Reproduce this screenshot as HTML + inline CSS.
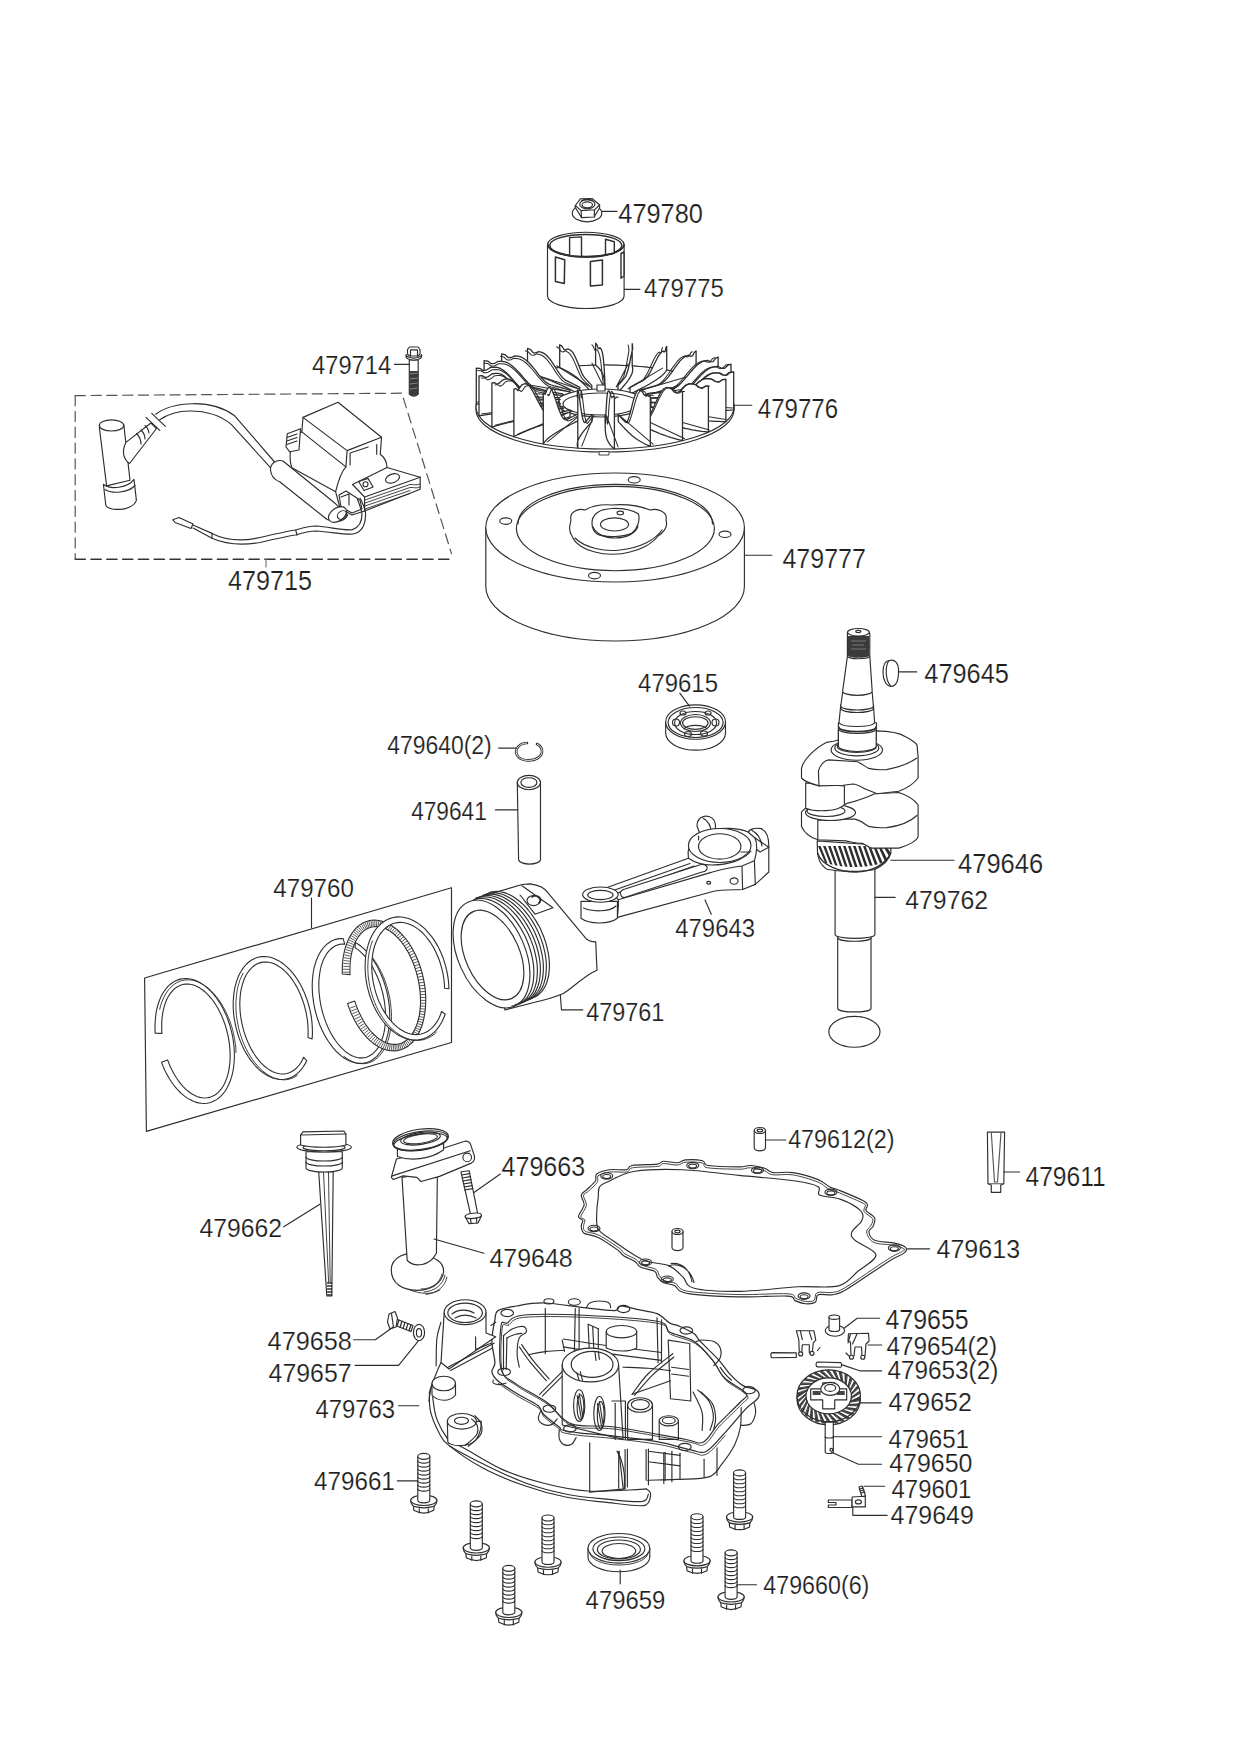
<!DOCTYPE html>
<html><head><meta charset="utf-8"><style>
html,body{margin:0;padding:0;background:#fff;width:1241px;height:1755px;overflow:hidden}
svg{display:block}
text{font-family:"Liberation Sans",sans-serif;font-size:100px;fill:#1e1e1e;stroke:#fff;stroke-width:0.7}
.l{fill:none;stroke:#2e2e2e;stroke-width:1.15;stroke-linejoin:round;stroke-linecap:round}
.w{fill:#fff;stroke:#2e2e2e;stroke-width:1.15;stroke-linejoin:round;stroke-linecap:round}
.t{fill:none;stroke:#3a3a3a;stroke-width:1.1}
</style></head><body>
<svg width="1241" height="1755" viewBox="0 0 1241 1755">
<!-- 01_nut_cup.svg -->
<g id="nut">
<path class="w" d="M572.3,213.2 A14.75,8.7 0 0 0 601.8,213.2 A14.75,8.7 0 0 0 572.3,213.2 Z"/>
<path class="w" d="M575.4,205.5 L580.5,198.7 L592.1,198.5 L599.6,205 L599.6,208 L595,215.5 L594.3,217 L581.6,217.6 L575,207 Z"/>
<path class="l" d="M575.4,205.5 L581,210.6 L594.5,209.8 L599.6,205 M581,210.6 L581.6,217.6 M594.5,209.8 L594.3,217"/>
<ellipse class="l" cx="587.3" cy="204.3" rx="7.6" ry="4.6"/>
<ellipse class="l" cx="587.3" cy="204.8" rx="5.2" ry="3"/>
<path class="l" d="M582,200.5 Q587,198.5 592,200.5" style="stroke-width:1.6"/>
<path class="l" d="M601.8,211.3 L617,211.3"/>
</g>
<g id="cup">
<path class="w" d="M547.5,244.6 L547.5,296 A38.3,12.5 0 0 0 624.1,296 L624.1,244.6 Z"/>
<ellipse class="w" cx="585.8" cy="244.6" rx="38.3" ry="12.4"/>
<ellipse class="l" cx="585.8" cy="245.4" rx="36" ry="11" style="stroke-width:1.5"/>
<path class="w" d="M569.6,237.6 L581.5,236.9 L581.5,256.4 L569.6,255.6 Z" style="stroke-width:1.4"/>
<path class="w" d="M605.5,239.3 L614.3,241.7 L614.3,253.4 L605.5,254.8 Z" style="stroke-width:1.4"/>
<path class="l" d="M548,244.6 A38,12.4 0 0 0 624,244.6" style="stroke-width:1.6"/>
<path class="w" d="M555.4,257 L564.7,259.7 L564.3,283.6 L555.4,281.4 Z" style="stroke-width:1.5"/>
<path class="w" d="M590.4,261.5 L602.4,260.1 L602.4,285 L590.4,285.9 Z" style="stroke-width:1.5"/>
<path class="w" d="M621,253.5 L624,252 L624,276 L621,278.3 Z" style="stroke-width:1.4"/>
<path class="l" d="M624.4,289.4 L639.8,289.4"/>
</g>

<!-- 20_flywheel.svg -->
<g id="flywheel">
<path class="w" d="M485.8,527.5 L485.8,586.5 A129.2,54.5 0 0 0 744.4,586.5 L744.4,527.5 Z"/>
<ellipse class="w" cx="615.1" cy="527.5" rx="129.3" ry="54.5"/>
<ellipse class="l" cx="615.4" cy="528.5" rx="99" ry="42.2"/>
<path class="l" d="M518,524 A97,39.5 0 0 1 712.5,524"/>
<ellipse class="l" cx="505.7" cy="521.1" rx="6" ry="3.2"/>
<ellipse class="l" cx="634.2" cy="479.8" rx="6" ry="3.2"/>
<ellipse class="l" cx="725" cy="534.3" rx="6" ry="3.2"/>
<ellipse class="l" cx="594.5" cy="575.6" rx="6" ry="3.2"/>
<path class="w" d="M571,520 C569,512 578,508 585,510 C592,506 600,504 612,505 C625,504 640,506 650,510 C658,508 668,512 666,520 C668,526 664,532 658,536 C652,544 640,550 630,552 C620,555 605,555 595,552 C585,550 575,544 572,536 C568,530 570,525 571,520 Z"/>
<path class="l" d="M575,538 C585,548 605,552 620,550 C640,548 655,540 662,530"/>
<path class="w" d="M592,523 C592,514 600,509 612,508.5 C625,508 632,510 638.5,514 C640,520 638,528 632,533 C625,537 605,538 597,534 C593,531 592,527 592,523 Z"/>
<path class="l" d="M593,527 C596,534 605,538 615,538 C627,538 636,533 638,526" />
<ellipse class="w" cx="614.5" cy="524.4" rx="14" ry="6.6"/>
<ellipse class="l" cx="620.3" cy="512.9" rx="3.2" ry="1.8"/>
<path class="l" d="M744.5,555.2 L771.8,555.2"/>
</g>
<g id="bolt714">
<path class="w" d="M409.3,360 L409.3,394 Q413.8,398.5 418.2,394 L418.2,360 Z"/>
<path d="M409.5,371 L418.1,371 L418.1,394 Q413.8,398 409.5,394 Z" fill="#3a3a3a"/><path d="M410,374 L417.5,373 M410,379 L417.5,378 M410,384 L417.5,383 M410,389 L417.5,388" stroke="#999" stroke-width="0.8"/>
<path class="w" d="M406,354.5 A7.8,3.6 0 0 0 421.6,354.5 L421.6,356.5 A7.8,3.6 0 0 1 406,356.5 Z"/>
<path class="w" d="M407.5,349.5 L409.5,347 L418,347 L420,349.5 L420,354 L418,356 L409.5,356 L407.5,354 Z"/>
<path class="l" d="M410.5,349.8 L417.5,349.8 M410.5,349.8 L410.5,356 M417.5,349.8 L417.5,356"/>
<path class="l" d="M394.5,364.4 L409.3,364.4"/>
</g>

<!-- 30_coil.svg -->
<g id="dashbox">
<path class="l" d="M75.2,395.6 L401.8,393.2 L451.5,553.6" style="stroke-dasharray:10.2 5.6;stroke-width:1.2;stroke:#555"/>
<path class="l" d="M75.2,559.3 L452.5,559.3" style="stroke-dasharray:10.2 5.6;stroke-width:1.5;stroke:#333"/>
<path class="l" d="M75.2,395.6 L75.2,559.3" style="stroke-dasharray:10.2 5.6;stroke-width:1.2;stroke:#555"/>
<path class="l" d="M266,559.3 L266,567" style="stroke:#777"/>
</g>
<g id="coil">
<!-- wire -->
<path class="l" d="M155.7,414.2 C165,407 178,404 192.8,403.7 C205,403.5 220,405 234.7,415.8 L275,462.5"/>
<path class="l" d="M159.8,419.8 C168,414 178,411 189.6,411 C203,411 218,413 231.5,424.6 L270.2,467.4"/>
<path class="l" d="M146,417.4 L159.8,430.3 M151.7,413.4 L165.4,426.3"/>
<!-- boot -->
<path class="w" d="M99.3,427 L106.6,485.9 L130,480.2 L123.8,424.6 Z"/>
<ellipse class="w" cx="111.5" cy="425.4" rx="12.2" ry="5.6"/>
<path class="w" d="M125.9,442.4 L150.9,423 L156.5,428.5 L129.5,463.5 C124,460 121,452 125.9,442.4 Z"/>
<path class="l" d="M136.5,433.5 C139,436 141,440 141,444 M141,430 C143,432 145,436 145,439 M145,425.5 C147,427 148.5,430 149,433"/>
<path class="w" d="M103.4,484.3 C110,490 128,488 134,479.4 L136.4,500.4 C134,507 124,510 118.7,509.3 C112,510 106,507 105.8,505.2 Z"/>
<path class="l" d="M105,489.5 C112,494 128,493 135,485.5"/>
<!-- tube sleeve -->
<!-- coil body -->
<path class="w" d="M291.5,467.5 C289,458 290,448 293.3,443.4 C296,437 299,433 301.8,431.9 L303,417.4 L338,402.3 L381.5,437.3 L380.3,454.2 C384,457 387,462 387,467.5 L420.2,477.2 L420.2,489.3 L364.6,511 L352,515 L340,508 L335.6,491.7 L291.5,467.5 Z"/>
<path class="l" d="M303,417.4 L347.1,450.6 L381.5,437.3 M347.1,450.6 L345.9,466.9 M301.8,431.9 L345.9,466.9"/>
<path class="l" d="M350.1,453 L368.2,447 M350.1,453 L350.1,465 M376.7,444.6 L376.7,454.2"/>
<path class="l" d="M345.9,466.9 C341,472 338,482 335.6,491.7"/>
<path class="w" d="M287.3,433.7 L300.5,428.8 L299,450 L289.7,451.8 L286,447 Z"/>
<path class="l" d="M287,437.5 L297,434 M286.8,441 L297,437.5 M286.7,444.5 L297,441"/>
<path class="l" d="M387,467.5 L352.5,484.5 M352.5,484.5 L364.6,497 L420.2,477.2 M364.6,497 L364.6,511"/>
<path class="l" d="M365,500 L410,484.5 C413,484 416,486 420,484 M365,503 L410,487.5 C413,487 416,489 420,487 M365,506 L410,490.5 M365,509 L410,493.5" style="stroke-width:0.9"/>
<ellipse class="l" cx="392.5" cy="478.4" rx="7.3" ry="4.3" transform="rotate(-20 392.5 478.4)"/>
<path class="l" d="M358.6,481.5 L368,478.4 L373.1,487 L364,490.5 Z"/>
<circle class="l" cx="365.5" cy="484.2" r="2.5"/>
<path class="w" d="M283,461 C276,459 270,464 270.5,470 C271,476 275,480 280,482 L327.1,519.5 C338,523 345,521 347.7,515 L335.6,503.8 Z"/>
<path class="w" d="M339,495 L346,491 L360,500 L362,509 L352,513 L341,507 Z"/>
<path class="l" d="M341,497 L349,494 L349,505"/>
<ellipse class="w" cx="337.5" cy="514.5" rx="10" ry="6.5" transform="rotate(-35 337.5 514.5)"/>
<ellipse class="l" cx="342" cy="515" rx="5" ry="3.8" transform="rotate(-35 342 515)"/>
<!-- low wire -->
<path class="l" d="M172.7,519.7 L179,517.5 L193,524 L191,528.5 L175,522.5 Z"/>
<path class="l" d="M193,525 L212,533.4 C225,540 240,542 260,537.5 C275,534 288,531 295.7,530 C305,527 312,526 316.3,526 C330,527 345,531 352.5,529.6 C360,527 362,520 362,514 C361,508 359,503 357.4,499"/>
<path class="l" d="M193,528 L212,538.3 C225,544 240,546 260,542.5 C275,539 288,536 295.7,535 C305,532 312,531 316.3,531 C332,532 345,535 353,534 C364,532 366,521 365.5,513 C365,507 362,502 360,498"/>
<path class="l" d="M212,533.4 L212,538.3 M295.7,530 L297,535.2"/>
</g>

<!-- 40_crank.svg -->
<g id="crank">
<!-- lower shaft -->
<path class="w" d="M837.7,936 L837.7,1008.7 A16.7,3.5 0 0 0 871,1008.7 L871,936 Z"/>
<path class="w" d="M835.1,866 L835.1,934.4 A19.9,4 0 0 0 874.9,934.4 L874.9,866 Z"/>
<path class="l" d="M837.7,938 A16.7,3.5 0 0 0 871,938"/>
<ellipse class="l" cx="854.4" cy="1031.8" rx="25.6" ry="15.4"/>
<!-- gear -->
<clipPath id="gearclip"><path d="M817.2,840.9 L817.5,852 C818,860 822,866 826.3,869 C840,872 862,872 874.6,869.5 C882,866 889,860 890.9,853 L890.9,846 Z"/></clipPath>
<path class="w" d="M817.2,840.9 L817.5,852 C818,860 822,866 826.3,869 C840,872 862,872 874.6,869.5 C882,866 889,860 890.9,853 L890.9,846 Z"/>
<g clip-path="url(#gearclip)"><path d="M818.0,846 L820.6,846 L827.6,863.4 L825.0,862.5 Z" fill="#2e2e2e"/>
<path d="M823.0,846 L825.6,846 L832.6,864.8 L830.0,864.1 Z" fill="#2e2e2e"/>
<path d="M828.0,846 L830.6,846 L837.6,865.8 L835.0,865.3 Z" fill="#2e2e2e"/>
<path d="M833.0,846 L835.6,846 L842.6,866.4 L840.0,866.1 Z" fill="#2e2e2e"/>
<path d="M838.0,846 L840.6,846 L847.6,866.8 L845.0,866.6 Z" fill="#2e2e2e"/>
<path d="M843.0,846 L845.6,846 L852.6,867.0 L850.0,866.9 Z" fill="#2e2e2e"/>
<path d="M848.0,846 L850.6,846 L857.6,866.9 L855.0,867.0 Z" fill="#2e2e2e"/>
<path d="M853.0,846 L855.6,846 L862.6,866.7 L860.0,866.8 Z" fill="#2e2e2e"/>
<path d="M858.0,846 L860.6,846 L867.6,866.2 L865.0,866.5 Z" fill="#2e2e2e"/>
<path d="M863.0,846 L865.6,846 L872.6,865.4 L870.0,865.8 Z" fill="#2e2e2e"/>
<path d="M868.0,846 L870.6,846 L877.6,864.2 L875.0,864.9 Z" fill="#2e2e2e"/>
<path d="M873.0,846 L875.6,846 L882.6,862.6 L880.0,863.5 Z" fill="#2e2e2e"/>
<path d="M878.0,846 L880.6,846 L887.6,860.0 L885.0,861.6 Z" fill="#2e2e2e"/>
<path d="M883.0,846 L885.6,846 L892.6,855.0 L890.0,857.8 Z" fill="#2e2e2e"/>
<path d="M888.0,846 L890.6,846 L897.6,855.0 L895.0,855.0 Z" fill="#2e2e2e"/>
</g>
<path class="l" d="M817.5,853 C822,866 840,872 856,872 C872,872 886,864 890.5,853" style="stroke-width:1.3"/>
<!-- lower web -->
<path class="w" d="M801.5,811.9 L801.5,826.4 C805,834 812,838 817.8,839.7 L845.6,840.9 C852,842 858,844 862.5,843.3 C867,846 870,848 872.2,848.1 L898.8,848.1 C910,845 918,840 918.1,836 L918.1,805 C916,802 910,796 898.8,792.5 L874.6,793.7 C868,797 860,800 846.8,803.4 L844.4,805 L805.7,808 Z"/>
<path class="l" d="M817.8,820.3 L817.8,839.7 M817.8,820.3 L843.2,819.1 L855.3,819.1 C862,821 866,825 868.6,826.4 C875,828 880,828 886.7,827.6 C900,826 910,822 916.9,815.5"/>
<ellipse class="w" cx="830.5" cy="812.5" rx="25" ry="8"/>
<ellipse class="l" cx="826" cy="811" rx="19" ry="5.5"/>
<!-- crank pin -->
<path class="w" d="M805.7,782.9 L805.7,808.2 C815,812 838,812 844.4,804.6 L844.4,785.9 Z"/>
<!-- upper web -->
<path class="w" d="M801.5,768.4 C803,760 815,748 826.3,742.4 L833.5,741.2 L876.4,730.9 C890,731 900,733 906,737 C912,740 917,744 917,745.4 L918.1,756.3 L918.1,778 C912,786 905,789 898.8,791.3 L877,793.7 C872,792 868,790 865,788.9 C860,786 856,784 852.9,784 L843.2,785.3 L819,785.9 C812,784 805,782 801.5,778 Z"/>
<path class="l" d="M819,785.9 L818.4,770.8 C820,765 825,760 828.7,759.9 L857.7,761.7 C862,764 866,767 868.6,768.4 C875,770 880,770 886.7,769.6 C900,767 910,763 916.9,758"/>
<!-- upper shaft -->
<path class="w" d="M838.4,730 L838.4,741 A19,6 0 0 0 876.2,741 L876.2,730 Z"/>
<ellipse class="w" cx="856.8" cy="750" rx="25.7" ry="10.2"/>
<ellipse class="l" cx="856.8" cy="748" rx="22" ry="7.8"/>
<ellipse class="l" cx="856.8" cy="746.5" rx="19.5" ry="6"/>
<path class="w" d="M838.4,728.8 L838.4,746 A18.9,5.5 0 0 0 876.2,746 L876.2,728.8 Z"/>
<path class="w" d="M838.4,722.7 L838.4,729 A19,4.5 0 0 0 876.4,729 L876.4,722.7 Z"/>
<path class="l" d="M839,727.5 A18,4 0 0 0 875.8,727.5" style="stroke-width:1.8"/>
<path class="w" d="M840.8,704.6 L839,722.7 A18,4.5 0 0 0 874.6,722.7 L873.4,704.6 Z"/>
<path class="w" d="M842.6,692.5 L840.8,706 A16.3,4 0 0 0 873.4,706 L872.2,692.5 Z"/>
<path class="l" d="M841,708.5 A16,4 0 0 0 873.2,708.5"/>
<path class="w" d="M847.4,656.3 L842.6,691.3 A14.8,4 0 0 0 872.2,691.3 L869.8,656.3 Z"/>
<path class="w" d="M847.4,633 L847.4,656.3 A11.2,2.5 0 0 0 869.8,656.3 L869.8,633 Z"/>
<path d="M848,636 L848,656 A11,2.5 0 0 0 869.2,656 L869.2,636 Z" fill="#3a3a3a"/>
<path d="M851,641 L866,641 M852,645 L864,645 M851,649 L866,649" stroke="#888" stroke-width="0.8"/>
<ellipse class="w" cx="858.4" cy="632.3" rx="10.9" ry="3.8"/>
<ellipse class="l" cx="858.3" cy="631.5" rx="2.6" ry="1.1"/>
<!-- key -->
<path class="w" d="M889,660.5 C895,659 899,663 898.5,672 C898.5,680 897,686 891,686.5 C886,686 883,680 883,672 C883,665 885,661 889,660.5 Z"/>
<path class="l" d="M889,660.5 C885,666 885,680 891,686.5"/>
<path class="l" d="M898.5,671.9 L916.7,671.9"/>
<!-- leaders -->
<path class="l" d="M890.9,860.2 L954,860.2"/>
<path class="l" d="M874.9,897.3 L895.2,897.3"/>
</g>
<g id="bearing">
<path class="w" d="M665.7,722 L665.7,733 A29.9,17.2 0 0 0 725.5,733 L725.5,722 Z"/>
<ellipse class="w" cx="695.6" cy="722" rx="29.9" ry="17.2"/>
<ellipse class="l" cx="695.6" cy="722.5" rx="27.5" ry="15"/>
<ellipse class="l" cx="695.6" cy="723" rx="21" ry="11.5"/>
<ellipse class="l" cx="695.5" cy="723" rx="15" ry="8.5"/>
<ellipse class="l" cx="695.3" cy="723" rx="12.7" ry="6.3"/>
<path class="l" d="M684,729 A12,5 0 0 1 707,729"/>
<ellipse class="l" cx="676" cy="722.5" rx="3.5" ry="3.5"/>
<ellipse class="l" cx="715.5" cy="722.5" rx="3.5" ry="3.5"/>
<ellipse class="l" cx="688" cy="734" rx="3.5" ry="2.5"/>
<ellipse class="l" cx="704" cy="733.5" rx="3.5" ry="2.5"/>
<ellipse class="l" cx="683" cy="713" rx="3" ry="2"/>
<ellipse class="l" cx="708" cy="713" rx="3" ry="2"/>
<path class="l" d="M679.8,693.2 L689.4,706.2"/>
</g>
<g id="circlip">
<path class="l" d="M537,744 C543,747 544,754 538,758 C531,762 520,761 517,755 C514,749 520,743 527,743" style="stroke-width:2.6"/>
<path d="M537,744 C543,747 544,754 538,758 C531,762 520,761 517,755 C514,749 520,743 527,743" fill="none" stroke="#fff" stroke-width="0.9"/>
<path class="l" d="M498.6,748.1 L516.2,748.1"/>
</g>
<g id="pin">
<path class="w" d="M517.3,782.5 L518.6,860 A11,4.5 0 0 0 540.5,860 L540.5,782.5 Z"/>
<ellipse class="w" cx="528.9" cy="782.5" rx="11.6" ry="7.2"/>
<ellipse class="l" cx="528.9" cy="782.5" rx="8" ry="4.8"/>
<path class="l" d="M495.4,809.9 L517.5,809.9"/>
</g>

<!-- 50_rod_piston.svg -->
<g id="rod">
<!-- big end caps -->
<path class="w" d="M697,826 C697,818 703,815 709,816.5 C714,818 716,823 715.5,828.6 L712,834 L700,834 Z"/>
<path class="l" d="M703,818 C708,821 711,826 711,832"/>
<path class="w" d="M748,833 C749,829 755,827.5 761,828.6 C767,831 769,838 768.8,847.2 L760,852 L752,846 Z"/>
<path class="l" d="M752,830.5 C757,833 761,839 762,846"/>
<!-- main body -->
<path class="w" d="M606.4,887.8 L688.4,858.2 C687,850 690,840 697,834 L710,830 C720,827 740,828 748,832 L755,838 C758,845 757,852 754.4,860.8 L755.3,884.4 L742.6,889.5 C730,890 720,890 713.8,891.2 L617.4,917.4 C618,910 619,905 618.2,899.7 Z"/>
<path class="l" d="M688.4,858.2 C694,862 703,865 712,865 C728,865 744,860 751,851"/>
<path class="l" d="M618.2,899.7 L710.4,872.6 C720,870 730,867 742,866 L754.4,860.8 M742,866 L742.6,889.5"/>
<path class="l" d="M609,892 L690,863.5 M612,895 L694,866"/>
<path class="w" d="M621,895.5 C619,892 622,889.5 625,889 L701,864.5 C705,864 708,866 707,869 C706,871 704,872 702,872 L626,897 C624,898 622,897.5 621,895.5 Z"/>
<ellipse class="w" cx="719.7" cy="845.5" rx="31.3" ry="17"/>
<ellipse class="w" cx="719.7" cy="846.4" rx="21.2" ry="12.7"/>
<path class="l" d="M698.6,840 L698.6,836 M740.9,852 L749,852"/>
<path class="l" d="M755,838 L768.8,847.2 L768.8,872 L755.3,884.4"/>
<ellipse class="l" cx="708.7" cy="882.8" rx="2" ry="1.4"/>
<ellipse class="l" cx="734.1" cy="881" rx="4" ry="3.2"/>
<!-- small end -->
<path class="w" d="M581,901.4 L581,918.3 C590,925 610,924 617.4,918.3 L617.4,901.4 Z"/>
<path class="l" d="M583.5,908.1 C592,912 610,912 616,906"/>
<ellipse class="w" cx="600.4" cy="894.6" rx="17.8" ry="7.6"/>
<ellipse class="l" cx="600.4" cy="895" rx="12.7" ry="4.6"/>
<path class="l" d="M711.3,914.2 L705,900"/>
</g>
<g id="piston">
<path class="w" d="M475.8,898 L522.2,884.5 L530,883.9 C538,885 545,888 548,892.9 L586.7,939.3 C589,941 593,942 595.7,941.9 L597,970.3 L591.8,972.8 C580,980 572,988 563.5,993.5 C555,997 545,1000 533.8,1002.5 L505,1010 Z"/>
<path class="l" d="M522,885.8 L553,907.7 L535,914.2 L520,895"/>
<ellipse class="l" cx="533.5" cy="900.6" rx="6.5" ry="5"/>
<path class="l" d="M532,897 A5,4 0 0 1 539,903" style="stroke-width:1.6"/>
<ellipse class="w" cx="491.5" cy="954" rx="33.5" ry="57" transform="rotate(-24 491.5 954)"/>
<ellipse class="l" cx="492.5" cy="955" rx="27" ry="47.5" transform="rotate(-24 492.5 955)"/>
<path class="l" d="M560.3,994.8 L561.5,1009.9 L582.8,1009.9"/>
</g>
<g id="rings">
<path class="l" d="M144.6,978 L451.5,887.7 L451.5,1042.5 L146.4,1131.4 Z"/>
<path class="l" d="M311.5,898 L311.5,927.7"/>
</g>

<!-- 60_lower_left.svg -->
<g id="dipstick">
<path class="w" d="M318.7,1171.6 L326.8,1296 L331.8,1296 L333.2,1171.6 Z"/>
<path class="l" d="M323.5,1172 L328.6,1282 M328.5,1172 L330.2,1282" style="stroke-width:0.9"/>
<path class="l" d="M327.3,1283 L331.7,1283 M327.4,1286 L331.7,1286 M327.5,1289 L331.8,1289 M327.6,1292 L331.8,1292 M327.7,1295 L331.8,1295" style="stroke-width:1.3"/>
<path class="w" d="M306,1151.7 L306,1168 A18,4 0 0 0 342.3,1168 L342.3,1151.7 Z"/>
<path class="l" d="M306,1157 A18,4 0 0 0 342.3,1157 M306,1162 A18,4 0 0 0 342.3,1162"/>
<ellipse class="w" cx="324.1" cy="1147.2" rx="27.2" ry="4.8"/>
<ellipse class="l" cx="324.1" cy="1147.5" rx="21" ry="3.2"/>
<path class="w" d="M300.6,1135 L303,1131.8 L344,1131 L345.9,1134 L345.9,1145 C335,1148 312,1148 300.6,1145 Z"/>
<path class="l" d="M300.6,1135 L345.9,1134"/>
<path class="l" d="M283.7,1226.8 L319.9,1204.2"/>
</g>
<g id="filltube">
<path class="w" d="M420,1256 C405,1250 391.3,1258 391.3,1270 C391.3,1283 402,1290.3 417,1290.3 C430,1290.3 442,1284 443.6,1272 C444,1262 435,1256 420,1256 Z"/>
<path class="l" d="M421,1289 C432,1289 440,1283 442,1274 M424,1292 C435,1291 443,1285 445,1275 M426,1294.5 C437,1293 445,1287 447,1277 M410,1290 C420,1294 432,1295 440,1290" style="stroke-width:0.9"/>
<path class="w" d="M402,1177.4 L407.2,1260.5 C415,1268 430,1266 436.4,1253.3 L437.4,1171.3 Z"/>
<path class="w" d="M391.3,1177.4 L396.4,1159 L444.6,1147.7 L464.1,1141.5 C467,1140.5 469,1141.5 470.3,1143.6 L474.4,1155.9 C475,1159 473.5,1162 471.3,1163.1 L439.5,1176.4 L421,1181.5 L416.9,1177.4 L403.1,1175.9 L393.3,1179.5 Z"/>
<path class="l" d="M392.3,1175.9 L470.3,1150.8"/>
<circle class="l" cx="467.2" cy="1157.4" r="4.3"/>
<path class="w" d="M397.4,1143.6 L397.4,1156.5 C410,1161 430,1160 443.6,1149.8 L443.6,1143.6 Z"/>
<ellipse class="w" cx="420.5" cy="1139.7" rx="28.2" ry="10.5" transform="rotate(-8 420.5 1139.7)"/>
<ellipse class="l" cx="420.5" cy="1140.5" rx="27.5" ry="9" transform="rotate(-8 420.5 1140.5)"/>
<ellipse class="l" cx="420.5" cy="1141.8" rx="27" ry="8" transform="rotate(-8 420.5 1141.8)"/>
<ellipse class="l" cx="420.5" cy="1138.5" rx="20" ry="6" transform="rotate(-8 420.5 1138.5)"/>
<ellipse class="l" cx="420.5" cy="1138.8" rx="17" ry="4.5" transform="rotate(-8 420.5 1138.8)"/>
<path class="l" d="M434,1239 L483.9,1253.3"/>
</g>
<g id="bolt663">
<path class="w" d="M461,1171.8 L470.8,1215.5 L477.8,1214.2 L469.2,1170.8 Z"/>
<path class="l" d="M461.4,1175 L469.6,1173.6 M462,1178 L470.2,1176.6 M462.7,1181 L470.8,1179.6 M463.3,1184 L471.5,1182.6 M464,1187 L472.1,1185.6 M464.6,1190 L472.7,1188.6" style="stroke-width:1.1"/>
<path class="w" d="M465.1,1216 L467.2,1220.5 L469,1223.6 L478,1223 L479.5,1220 L481.5,1215.5 Z"/>
<ellipse class="w" cx="473.3" cy="1215.8" rx="8.2" ry="2.6" transform="rotate(-6 473.3 1215.8)"/>
<path class="l" d="M470.5,1218.5 L471,1223 M476.5,1218 L476.8,1223"/>
<path class="l" d="M474,1192.5 L500.3,1174"/>
</g>
<g id="bolt658">
<path class="w" d="M396,1319 L413,1325.5 L411,1331.5 L394,1325 Z"/>
<path class="l" d="M399,1320 L397,1326 M402,1321.2 L400,1327.2 M405,1322.4 L403,1328.4 M408,1323.6 L406,1329.6 M411,1324.8 L409,1330.8" style="stroke-width:1.3"/>
<path class="w" d="M389,1314 L395,1311.5 L397.5,1318 L396,1327 L390,1329 L387.5,1322 Z"/>
<path class="l" d="M391.5,1313.5 L393.5,1327.5"/>
<ellipse class="w" cx="419" cy="1332.5" rx="5.6" ry="8.2"/>
<ellipse class="l" cx="419" cy="1332.8" rx="2.6" ry="4.2"/>
<path class="l" d="M353.6,1339.7 L375.4,1339.7 L393.5,1326.7"/>
<path class="l" d="M355.1,1365.4 L398.6,1365.4 L418.2,1341.2"/>
</g>
<g id="dowels">
<path class="w" d="M754.2,1130.5 L754.2,1147.8 A5.6,3 0 0 0 765.5,1147.8 L765.5,1130.5 Z"/>
<ellipse class="w" cx="759.9" cy="1130.5" rx="5.6" ry="3"/>
<ellipse class="l" cx="759.9" cy="1130.5" rx="2.8" ry="1.4"/>
<path class="l" d="M765.5,1140 L785.8,1140"/>
</g>
<g id="p611">
<path class="w" d="M987.4,1132.1 L1004.6,1132.1 L1003.8,1183.7 L1000.7,1185 L1000.7,1192.3 L991.3,1192.3 L991.3,1185 L988,1183.7 Z"/>
<path class="l" d="M991.3,1132.5 L994.5,1182 L997.5,1182 L1001,1132.5 M988,1183.7 L1003.8,1183.7" style="stroke:#555"/>
<path class="l" d="M1003.8,1172 L1019.6,1172"/>
</g>

<!-- 10_fan.py -->
<path class="w" d="M476,410 A129,42 0 0 0 734,410 L734,407 A129,42 0 0 0 476,407 Z"/>
<ellipse class="w" cx="605" cy="407" rx="129" ry="42"/>
<path class="w" d="M595.6,343.1 L596.9,344.6 L598.1,348.2 L599.1,348.7 L600.0,347.7 L600.8,348.6 L601.5,349.8 L602.1,351.6 L602.6,353.9 L603.1,356.6 L603.4,359.6 L603.7,362.7 L604.0,365.9 L604.2,368.9 L604.4,371.6 L604.5,373.9 L604.6,375.7 L604.7,377.0 L604.7,378.2 L604.8,379.3 L604.8,380.4 L604.8,381.5 L604.8,382.6 L604.9,383.8 L604.9,384.9 L604.9,391.9 L604.9,390.8 L604.8,389.6 L604.8,388.5 L604.8,387.4 L604.8,386.3 L604.7,385.2 L604.7,384.0 L604.6,382.9 L604.5,381.8 L604.4,380.7 L604.2,379.6 L604.0,378.4 L603.7,377.3 L603.4,376.2 L603.1,375.1 L602.6,374.0 L602.1,372.9 L601.5,371.7 L600.8,370.6 L600.0,369.5 L599.1,368.4 L598.1,367.3 L596.9,366.2 L595.6,365.1 Z" style="stroke-width:1.3"/><path class="l" d="M591.9,344.9 L593.3,346.4 L594.6,350.0 L595.7,350.5 L596.7,349.5 L597.6,350.3 L598.3,351.6 L599.0,353.4 L599.7,355.6 L600.2,358.3 L600.7,361.3 L601.1,364.5 L601.4,367.6 L601.7,370.6 L602.0,373.3 L602.2,375.6 L602.4,377.5 L602.6,378.8 L602.8,379.9 L602.9,381.0 L603.1,382.1 L603.2,383.2 L603.3,384.4 L603.4,385.5 L603.5,386.6 L591.9,363.1" style="stroke-width:1.05"/>
<path class="w" d="M632.2,343.6 L632.5,345.2 L632.7,348.9 L632.7,349.5 L632.6,348.5 L632.5,349.4 L632.2,350.7 L631.8,352.5 L631.3,354.8 L630.7,357.5 L630.1,360.5 L629.5,363.7 L628.7,366.8 L628.0,369.8 L627.2,372.6 L626.3,374.9 L625.5,376.7 L624.6,377.9 L623.6,379.0 L622.7,380.1 L621.8,381.2 L620.8,382.3 L619.9,383.3 L618.9,384.4 L618.0,385.5 L618.0,392.5 L618.9,391.4 L619.9,390.3 L620.8,389.3 L621.8,388.2 L622.7,387.1 L623.6,386.0 L624.6,384.9 L625.5,383.9 L626.3,382.8 L627.2,381.7 L628.0,380.6 L628.7,379.5 L629.5,378.4 L630.1,377.3 L630.7,376.2 L631.3,375.1 L631.8,374.0 L632.2,372.8 L632.5,371.7 L632.6,370.6 L632.7,369.4 L632.7,368.3 L632.5,367.1 L632.2,365.9 Z" style="stroke-width:1.3"/><path class="l" d="M628.2,345.1 L628.6,346.6 L628.8,350.3 L628.9,350.9 L629.0,349.9 L628.9,350.8 L628.7,352.1 L628.4,353.9 L628.0,356.2 L627.5,358.9 L627.0,361.9 L626.4,365.1 L625.8,368.3 L625.2,371.3 L624.4,374.0 L623.7,376.4 L622.9,378.2 L622.1,379.4 L621.3,380.5 L620.5,381.6 L619.7,382.7 L618.8,383.8 L617.9,384.9 L617.1,386.0 L616.2,387.0 L628.2,363.9" style="stroke-width:1.05"/>
<path class="w" d="M559.7,344.7 L561.9,346.1 L564.0,349.5 L565.9,349.9 L567.8,348.8 L569.5,349.5 L571.1,350.7 L572.7,352.4 L574.1,354.7 L575.5,357.4 L576.8,360.4 L578.1,363.6 L579.3,366.8 L580.5,369.8 L581.6,372.6 L582.7,374.9 L583.8,376.7 L584.8,378.0 L585.9,379.1 L586.9,380.1 L587.9,381.2 L588.8,382.3 L589.8,383.4 L590.8,384.4 L591.8,385.5 L591.8,392.5 L590.8,391.4 L589.8,390.4 L588.8,389.3 L587.9,388.2 L586.9,387.1 L585.9,386.1 L584.8,385.0 L583.8,383.9 L582.7,382.9 L581.6,381.8 L580.5,380.7 L579.3,379.7 L578.1,378.6 L576.8,377.6 L575.5,376.6 L574.1,375.5 L572.7,374.5 L571.1,373.5 L569.5,372.5 L567.8,371.5 L565.9,370.5 L564.0,369.5 L561.9,368.6 L559.7,367.7 Z" style="stroke-width:1.3"/><path class="l" d="M556.7,346.8 L559.0,348.2 L561.1,351.6 L563.2,352.0 L565.1,350.8 L566.9,351.6 L568.6,352.7 L570.2,354.4 L571.8,356.7 L573.2,359.3 L574.6,362.4 L576.0,365.5 L577.3,368.7 L578.6,371.8 L579.8,374.5 L581.0,376.8 L582.2,378.6 L583.3,379.9 L584.4,380.9 L585.5,382.0 L586.6,383.1 L587.7,384.1 L588.8,385.2 L589.9,386.3 L590.9,387.3 L556.7,365.7" style="stroke-width:1.05"/>
<path class="w" d="M666.7,346.3 L665.9,347.9 L665.1,351.5 L664.1,352.0 L663.0,351.0 L661.9,351.8 L660.6,353.1 L659.3,354.8 L657.8,357.2 L656.4,360.0 L654.8,363.0 L653.2,366.3 L651.6,369.6 L649.9,372.6 L648.2,375.4 L646.4,377.7 L644.6,379.5 L642.9,380.6 L641.0,381.6 L639.2,382.5 L637.4,383.5 L635.5,384.4 L633.7,385.4 L631.8,386.3 L630.0,387.3 L630.0,394.3 L631.8,393.3 L633.7,392.4 L635.5,391.4 L637.4,390.5 L639.2,389.5 L641.0,388.6 L642.9,387.6 L644.6,386.7 L646.4,385.7 L648.2,384.7 L649.9,383.8 L651.6,382.8 L653.2,381.8 L654.8,380.8 L656.4,379.8 L657.8,378.8 L659.3,377.8 L660.6,376.7 L661.9,375.7 L663.0,374.6 L664.1,373.5 L665.1,372.4 L665.9,371.3 L666.7,370.1 Z" style="stroke-width:1.3"/><path class="l" d="M662.5,347.4 L661.9,348.9 L661.2,352.6 L660.3,353.1 L659.3,352.1 L658.2,352.9 L657.0,354.2 L655.8,356.0 L654.5,358.3 L653.1,361.1 L651.6,364.2 L650.1,367.5 L648.5,370.8 L646.9,373.9 L645.3,376.6 L643.7,379.0 L642.0,380.7 L640.3,381.9 L638.5,382.9 L636.8,383.8 L635.1,384.8 L633.3,385.8 L631.5,386.7 L629.8,387.7 L628.0,388.7 L662.5,368.1" style="stroke-width:1.05"/>
<path class="w" d="M527.5,348.4 L530.5,349.5 L533.3,352.8 L536.0,352.9 L538.6,351.6 L541.1,352.1 L543.5,353.1 L545.9,354.8 L548.1,357.0 L550.4,359.7 L552.5,362.8 L554.7,366.2 L556.7,369.5 L558.8,372.6 L560.8,375.5 L562.7,377.8 L564.7,379.6 L566.6,380.7 L568.5,381.7 L570.4,382.6 L572.3,383.5 L574.2,384.5 L576.0,385.4 L577.9,386.4 L579.8,387.3 L579.8,394.3 L577.9,393.4 L576.0,392.4 L574.2,391.5 L572.3,390.5 L570.4,389.6 L568.5,388.7 L566.6,387.7 L564.7,386.8 L562.7,385.9 L560.8,385.0 L558.8,384.1 L556.7,383.2 L554.7,382.3 L552.5,381.4 L550.4,380.5 L548.1,379.6 L545.9,378.8 L543.5,378.0 L541.1,377.1 L538.6,376.3 L536.0,375.6 L533.3,374.8 L530.5,374.1 L527.5,373.4 Z" style="stroke-width:1.3"/><path class="l" d="M525.5,350.8 L528.4,351.9 L531.3,355.1 L534.0,355.2 L536.7,353.8 L539.3,354.4 L541.8,355.3 L544.2,357.0 L546.6,359.2 L548.8,361.9 L551.1,365.0 L553.3,368.3 L555.4,371.6 L557.6,374.7 L559.6,377.5 L561.7,379.9 L563.7,381.6 L565.7,382.7 L567.7,383.7 L569.7,384.6 L571.7,385.5 L573.6,386.4 L575.6,387.3 L577.6,388.2 L579.5,389.2 L525.5,371.4" style="stroke-width:1.05"/>
<path class="w" d="M696.1,350.9 L694.4,352.3 L692.6,355.9 L690.7,356.3 L688.7,355.1 L686.7,355.8 L684.6,356.9 L682.4,358.6 L680.1,360.9 L677.8,363.8 L675.4,367.0 L673.1,370.5 L670.6,373.9 L668.2,377.1 L665.7,379.9 L663.2,382.2 L660.6,383.9 L658.1,384.9 L655.5,385.6 L653.0,386.4 L650.4,387.1 L647.8,387.9 L645.2,388.6 L642.6,389.3 L640.0,390.1 L640.0,397.1 L642.6,396.3 L645.2,395.6 L647.8,394.9 L650.4,394.1 L653.0,393.4 L655.5,392.6 L658.1,391.9 L660.6,391.1 L663.2,390.4 L665.7,389.6 L668.2,388.8 L670.6,388.0 L673.1,387.3 L675.4,386.4 L677.8,385.6 L680.1,384.8 L682.4,383.9 L684.6,383.0 L686.7,382.1 L688.7,381.2 L690.7,380.3 L692.6,379.3 L694.4,378.3 L696.1,377.3 Z" style="stroke-width:1.3"/><path class="l" d="M692.2,351.6 L690.6,353.0 L688.9,356.6 L687.1,357.0 L685.2,355.8 L683.3,356.5 L681.2,357.6 L679.1,359.4 L676.9,361.8 L674.7,364.7 L672.4,367.9 L670.1,371.3 L667.7,374.8 L665.3,378.0 L662.9,380.9 L660.5,383.2 L658.0,384.9 L655.5,385.9 L653.0,386.7 L650.5,387.5 L648.0,388.2 L645.5,389.0 L643.0,389.7 L640.5,390.5 L637.9,391.3 L692.2,375.3" style="stroke-width:1.05"/>
<path class="w" d="M501.6,353.9 L505.0,354.7 L508.3,357.6 L511.6,357.5 L514.7,355.9 L517.8,356.2 L520.9,356.9 L523.8,358.5 L526.8,360.7 L529.6,363.5 L532.5,366.8 L535.3,370.2 L538.0,373.8 L540.8,377.1 L543.5,380.0 L546.2,382.4 L548.8,384.1 L551.5,385.0 L554.1,385.8 L556.8,386.5 L559.4,387.2 L562.0,387.9 L564.6,388.7 L567.2,389.4 L569.8,390.1 L569.8,397.1 L567.2,396.4 L564.6,395.7 L562.0,394.9 L559.4,394.2 L556.8,393.5 L554.1,392.8 L551.5,392.0 L548.8,391.3 L546.2,390.6 L543.5,389.9 L540.8,389.2 L538.0,388.5 L535.3,387.9 L532.5,387.2 L529.6,386.6 L526.8,386.0 L523.8,385.4 L520.9,384.8 L517.8,384.2 L514.7,383.7 L511.6,383.2 L508.3,382.7 L505.0,382.3 L501.6,381.9 Z" style="stroke-width:1.3"/><path class="l" d="M500.6,356.4 L504.0,357.1 L507.4,360.1 L510.7,359.9 L513.9,358.3 L517.0,358.6 L520.1,359.3 L523.1,360.8 L526.1,363.0 L529.0,365.8 L531.9,369.0 L534.8,372.5 L537.6,375.9 L540.4,379.2 L543.2,382.1 L545.9,384.5 L548.6,386.2 L551.3,387.1 L554.0,387.8 L556.7,388.5 L559.4,389.2 L562.1,389.9 L564.8,390.6 L567.5,391.3 L570.1,392.0 L500.6,379.9" style="stroke-width:1.05"/>
<path class="w" d="M718.1,357.0 L715.6,358.3 L713.0,361.6 L710.4,361.8 L707.7,360.4 L704.9,360.9 L702.1,361.7 L699.2,363.4 L696.3,365.8 L693.4,368.8 L690.4,372.2 L687.4,375.8 L684.4,379.4 L681.3,382.8 L678.3,385.7 L675.2,388.0 L672.1,389.6 L669.0,390.4 L665.9,390.9 L662.8,391.3 L659.7,391.8 L656.6,392.3 L653.4,392.7 L650.3,393.2 L647.2,393.7 L647.2,400.7 L650.3,400.2 L653.4,399.7 L656.6,399.3 L659.7,398.8 L662.8,398.3 L665.9,397.9 L669.0,397.4 L672.1,396.9 L675.2,396.4 L678.3,395.9 L681.3,395.4 L684.4,394.8 L687.4,394.3 L690.4,393.7 L693.4,393.2 L696.3,392.6 L699.2,392.0 L702.1,391.3 L704.9,390.6 L707.7,390.0 L710.4,389.2 L713.0,388.5 L715.6,387.7 L718.1,386.8 Z" style="stroke-width:1.3"/><path class="l" d="M714.9,357.4 L712.4,358.7 L709.9,362.0 L707.3,362.2 L704.7,360.8 L702.0,361.3 L699.2,362.2 L696.4,363.9 L693.5,366.3 L690.7,369.3 L687.7,372.8 L684.8,376.4 L681.8,380.0 L678.8,383.5 L675.8,386.4 L672.8,388.8 L669.8,390.4 L666.7,391.2 L663.7,391.7 L660.6,392.2 L657.5,392.7 L654.4,393.2 L651.4,393.7 L648.3,394.2 L645.2,394.7 L714.9,384.8" style="stroke-width:1.05"/>
<path class="w" d="M484.1,360.6 L487.7,361.1 L491.2,363.7 L494.7,363.3 L498.2,361.3 L501.6,361.4 L505.0,361.8 L508.4,363.2 L511.7,365.5 L515.0,368.4 L518.3,371.8 L521.6,375.5 L524.8,379.3 L528.0,382.8 L531.2,385.8 L534.4,388.2 L537.6,389.8 L540.7,390.6 L543.9,391.0 L547.0,391.5 L550.2,391.9 L553.3,392.4 L556.4,392.8 L559.6,393.3 L562.7,393.8 L562.7,400.8 L559.6,400.3 L556.4,399.8 L553.3,399.4 L550.2,398.9 L547.0,398.5 L543.9,398.0 L540.7,397.6 L537.6,397.1 L534.4,396.7 L531.2,396.3 L528.0,395.8 L524.8,395.4 L521.6,395.0 L518.3,394.7 L515.0,394.3 L511.7,394.0 L508.4,393.7 L505.0,393.4 L501.6,393.1 L498.2,392.9 L494.7,392.7 L491.2,392.6 L487.7,392.4 L484.1,392.4 Z" style="stroke-width:1.3"/><path class="l" d="M484.2,363.2 L487.8,363.6 L491.4,366.2 L494.9,365.8 L498.4,363.8 L501.8,363.8 L505.3,364.2 L508.7,365.6 L512.0,367.8 L515.3,370.7 L518.6,374.1 L521.9,377.7 L525.2,381.4 L528.4,384.9 L531.7,387.9 L534.9,390.3 L538.1,391.9 L541.3,392.6 L544.5,393.0 L547.7,393.4 L550.9,393.8 L554.0,394.3 L557.2,394.7 L560.4,395.1 L563.6,395.6 L484.2,390.4" style="stroke-width:1.05"/>
<ellipse class="w" cx="601" cy="403" rx="45" ry="14"/>
<ellipse class="l" cx="601" cy="404" rx="38" ry="11"/>
<path class="w" d="M597,391 l0,-6 l8,0 l0,6 z"/>
<path class="w" d="M731.0,364.2 L727.9,365.2 L724.7,368.3 L721.5,368.2 L718.3,366.5 L715.0,366.7 L711.7,367.3 L708.4,368.9 L705.1,371.3 L701.7,374.4 L698.4,378.0 L695.0,381.8 L691.7,385.7 L688.3,389.3 L684.9,392.3 L681.5,394.7 L678.1,396.1 L674.8,396.6 L671.4,396.8 L668.0,397.0 L664.6,397.2 L661.2,397.3 L657.8,397.5 L654.4,397.6 L650.9,397.8 L650.9,404.8 L654.4,404.6 L657.8,404.5 L661.2,404.3 L664.6,404.2 L668.0,404.0 L671.4,403.8 L674.8,403.6 L678.1,403.4 L681.5,403.3 L684.9,403.0 L688.3,402.8 L691.7,402.6 L695.0,402.4 L698.4,402.1 L701.7,401.8 L705.1,401.5 L708.4,401.2 L711.7,400.9 L715.0,400.5 L718.3,400.1 L721.5,399.6 L724.7,399.1 L727.9,398.6 L731.0,398.0 Z" style="stroke-width:1.3"/><path class="l" d="M728.6,364.3 L725.5,365.3 L722.4,368.4 L719.2,368.4 L716.0,366.7 L712.8,366.9 L709.6,367.6 L706.3,369.2 L703.0,371.6 L699.7,374.7 L696.4,378.3 L693.1,382.2 L689.7,386.1 L686.4,389.7 L683.0,392.8 L679.6,395.2 L676.3,396.7 L672.9,397.2 L669.5,397.4 L666.1,397.7 L662.7,397.9 L659.4,398.1 L656.0,398.3 L652.6,398.5 L649.2,398.6 L728.6,396.0" style="stroke-width:1.05"/>
<path class="w" d="M476.3,368.1 L479.8,368.3 L483.3,370.6 L486.8,369.8 L490.3,367.5 L493.8,367.2 L497.3,367.4 L500.8,368.7 L504.2,370.9 L507.7,374.0 L511.2,377.6 L514.6,381.6 L518.0,385.5 L521.5,389.3 L524.9,392.4 L528.3,394.9 L531.7,396.4 L535.2,396.8 L538.6,397.0 L542.0,397.1 L545.4,397.3 L548.8,397.4 L552.2,397.6 L555.6,397.7 L559.0,397.9 L559.0,404.9 L555.6,404.7 L552.2,404.6 L548.8,404.4 L545.4,404.3 L542.0,404.1 L538.6,404.0 L535.2,403.8 L531.7,403.7 L528.3,403.6 L524.9,403.5 L521.5,403.4 L518.0,403.3 L514.6,403.2 L511.2,403.1 L507.7,403.1 L504.2,403.1 L500.8,403.1 L497.3,403.1 L493.8,403.2 L490.3,403.3 L486.8,403.4 L483.3,403.6 L479.8,403.8 L476.3,404.1 Z" style="stroke-width:1.3"/><path class="l" d="M477.6,370.6 L481.1,370.7 L484.6,373.0 L488.1,372.2 L491.6,369.9 L495.1,369.6 L498.5,369.7 L502.0,371.0 L505.5,373.2 L508.9,376.2 L512.4,379.8 L515.8,383.7 L519.3,387.6 L522.7,391.3 L526.1,394.5 L529.6,396.9 L533.0,398.3 L536.4,398.8 L539.9,398.9 L543.3,399.0 L546.7,399.1 L550.1,399.2 L553.5,399.4 L557.0,399.5 L560.4,399.6 L477.6,402.1" style="stroke-width:1.05"/>
<path class="w" d="M733.7,371.9 L730.2,372.6 L726.7,375.3 L723.2,374.9 L719.7,372.9 L716.2,372.8 L712.7,373.1 L709.2,374.6 L705.8,377.0 L702.3,380.2 L698.8,384.0 L695.4,388.1 L692.0,392.2 L688.5,396.0 L685.1,399.2 L681.7,401.6 L678.3,402.9 L674.8,403.2 L671.4,403.0 L668.0,402.9 L664.6,402.7 L661.2,402.6 L657.8,402.4 L654.4,402.3 L651.0,402.1 L651.0,409.1 L654.4,409.3 L657.8,409.4 L661.2,409.6 L664.6,409.7 L668.0,409.9 L671.4,410.0 L674.8,410.2 L678.3,410.3 L681.7,410.4 L685.1,410.5 L688.5,410.6 L692.0,410.7 L695.4,410.8 L698.8,410.9 L702.3,410.9 L705.8,410.9 L709.2,410.9 L712.7,410.9 L716.2,410.8 L719.7,410.7 L723.2,410.6 L726.7,410.4 L730.2,410.2 L733.7,409.9 Z" style="stroke-width:1.3"/><path class="l" d="M732.4,371.8 L728.9,372.5 L725.4,375.3 L721.9,374.9 L718.4,372.9 L714.9,372.9 L711.5,373.2 L708.0,374.7 L704.5,377.1 L701.1,380.4 L697.6,384.2 L694.2,388.4 L690.7,392.5 L687.3,396.4 L683.9,399.6 L680.4,402.0 L677.0,403.4 L673.6,403.6 L670.1,403.5 L666.7,403.4 L663.3,403.3 L659.9,403.2 L656.5,403.0 L653.0,402.9 L649.6,402.8 L732.4,407.9" style="stroke-width:1.05"/>
<path class="w" d="M479.0,375.8 L482.1,375.6 L485.3,377.6 L488.5,376.6 L491.7,374.0 L495.0,373.3 L498.3,373.3 L501.6,374.4 L504.9,376.6 L508.3,379.8 L511.6,383.6 L515.0,387.8 L518.3,392.1 L521.7,396.0 L525.1,399.3 L528.5,401.8 L531.9,403.2 L535.2,403.4 L538.6,403.2 L542.0,403.0 L545.4,402.8 L548.8,402.7 L552.2,402.5 L555.6,402.4 L559.1,402.2 L559.1,409.2 L555.6,409.4 L552.2,409.5 L548.8,409.7 L545.4,409.8 L542.0,410.0 L538.6,410.2 L535.2,410.4 L531.9,410.6 L528.5,410.7 L525.1,411.0 L521.7,411.2 L518.3,411.4 L515.0,411.6 L511.6,411.9 L508.3,412.2 L504.9,412.5 L501.6,412.8 L498.3,413.1 L495.0,413.5 L491.7,413.9 L488.5,414.4 L485.3,414.9 L482.1,415.4 L479.0,416.0 Z" style="stroke-width:1.3"/><path class="l" d="M481.4,378.1 L484.5,377.9 L487.6,379.9 L490.8,378.8 L494.0,376.1 L497.2,375.5 L500.4,375.4 L503.7,376.5 L507.0,378.7 L510.3,381.8 L513.6,385.7 L516.9,389.8 L520.3,394.0 L523.6,397.9 L527.0,401.2 L530.4,403.6 L533.7,405.0 L537.1,405.2 L540.5,405.0 L543.9,404.7 L547.3,404.5 L550.6,404.3 L554.0,404.1 L557.4,403.9 L560.8,403.8 L481.4,414.0" style="stroke-width:1.05"/>
<path class="w" d="M725.9,379.4 L722.3,379.7 L718.8,382.2 L715.3,381.4 L711.8,379.1 L708.4,378.6 L705.0,378.7 L701.6,380.0 L698.3,382.4 L695.0,385.8 L691.7,389.8 L688.4,394.1 L685.2,398.5 L682.0,402.5 L678.8,405.9 L675.6,408.2 L672.4,409.5 L669.3,409.4 L666.1,409.0 L663.0,408.5 L659.8,408.1 L656.7,407.6 L653.6,407.2 L650.4,406.7 L647.3,406.2 L647.3,413.2 L650.4,413.7 L653.6,414.2 L656.7,414.6 L659.8,415.1 L663.0,415.5 L666.1,416.0 L669.3,416.4 L672.4,416.9 L675.6,417.3 L678.8,417.7 L682.0,418.2 L685.2,418.6 L688.4,419.0 L691.7,419.3 L695.0,419.7 L698.3,420.0 L701.6,420.3 L705.0,420.6 L708.4,420.9 L711.8,421.1 L715.3,421.3 L718.8,421.4 L722.3,421.6 L725.9,421.6 Z" style="stroke-width:1.3"/><path class="l" d="M725.8,379.3 L722.2,379.6 L718.6,382.1 L715.1,381.4 L711.6,379.1 L708.2,378.7 L704.7,378.8 L701.3,380.1 L698.0,382.5 L694.7,385.9 L691.4,389.9 L688.1,394.3 L684.8,398.7 L681.6,402.8 L678.3,406.1 L675.1,408.6 L671.9,409.8 L668.7,409.8 L665.5,409.4 L662.3,409.0 L659.1,408.6 L656.0,408.1 L652.8,407.7 L649.6,407.3 L646.4,406.8 L725.8,419.6" style="stroke-width:1.05"/>
<path class="w" d="M491.9,383.0 L494.4,382.6 L497.0,384.3 L499.6,382.9 L502.3,380.1 L505.1,379.1 L507.9,378.8 L510.8,379.8 L513.7,382.1 L516.6,385.4 L519.6,389.5 L522.6,393.9 L525.6,398.4 L528.7,402.5 L531.7,406.0 L534.8,408.4 L537.9,409.7 L541.0,409.6 L544.1,409.1 L547.2,408.7 L550.3,408.2 L553.4,407.7 L556.6,407.3 L559.7,406.8 L562.8,406.3 L562.8,413.3 L559.7,413.8 L556.6,414.3 L553.4,414.7 L550.3,415.2 L547.2,415.7 L544.1,416.1 L541.0,416.6 L537.9,417.1 L534.8,417.6 L531.7,418.1 L528.7,418.6 L525.6,419.2 L522.6,419.7 L519.6,420.3 L516.6,420.8 L513.7,421.4 L510.8,422.0 L507.9,422.7 L505.1,423.4 L502.3,424.0 L499.6,424.8 L497.0,425.5 L494.4,426.3 L491.9,427.2 Z" style="stroke-width:1.3"/><path class="l" d="M495.1,385.0 L497.6,384.6 L500.1,386.3 L502.7,384.9 L505.3,382.0 L508.0,381.1 L510.8,380.7 L513.6,381.7 L516.5,384.0 L519.3,387.2 L522.3,391.2 L525.2,395.7 L528.2,400.1 L531.2,404.2 L534.2,407.6 L537.2,410.1 L540.2,411.3 L543.3,411.2 L546.3,410.7 L549.4,410.2 L552.5,409.7 L555.6,409.2 L558.6,408.7 L561.7,408.2 L564.8,407.7 L495.1,425.2" style="stroke-width:1.05"/>
<path class="w" d="M708.4,386.2 L705.0,386.2 L701.7,388.3 L698.4,387.2 L695.3,384.6 L692.2,383.8 L689.1,383.6 L686.2,384.8 L683.2,387.2 L680.4,390.6 L677.5,394.8 L674.7,399.4 L672.0,404.0 L669.2,408.2 L666.5,411.7 L663.8,414.1 L661.2,415.2 L658.5,415.0 L655.9,414.2 L653.2,413.5 L650.6,412.8 L648.0,412.1 L645.4,411.3 L642.8,410.6 L640.2,409.9 L640.2,416.9 L642.8,417.6 L645.4,418.3 L648.0,419.1 L650.6,419.8 L653.2,420.5 L655.9,421.2 L658.5,422.0 L661.2,422.7 L663.8,423.4 L666.5,424.1 L669.2,424.8 L672.0,425.5 L674.7,426.1 L677.5,426.8 L680.4,427.4 L683.2,428.0 L686.2,428.6 L689.1,429.2 L692.2,429.8 L695.3,430.3 L698.4,430.8 L701.7,431.3 L705.0,431.7 L708.4,432.1 Z" style="stroke-width:1.3"/><path class="l" d="M709.4,386.0 L706.0,386.1 L702.6,388.2 L699.3,387.2 L696.1,384.6 L693.0,383.9 L689.9,383.7 L686.9,384.9 L683.9,387.3 L681.0,390.8 L678.1,395.0 L675.2,399.6 L672.4,404.2 L669.6,408.5 L666.8,411.9 L664.1,414.4 L661.4,415.5 L658.7,415.3 L656.0,414.6 L653.3,413.9 L650.6,413.2 L647.9,412.5 L645.2,411.8 L642.5,411.1 L639.9,410.4 L709.4,430.1" style="stroke-width:1.05"/>
<path class="w" d="M513.9,389.1 L515.6,388.5 L517.4,390.0 L519.3,388.5 L521.3,385.4 L523.3,384.2 L525.4,383.7 L527.6,384.6 L529.9,386.9 L532.2,390.3 L534.6,394.6 L536.9,399.2 L539.4,403.9 L541.8,408.2 L544.3,411.8 L546.8,414.2 L549.4,415.4 L551.9,415.1 L554.5,414.4 L557.0,413.6 L559.6,412.9 L562.2,412.1 L564.8,411.4 L567.4,410.7 L570.0,409.9 L570.0,416.9 L567.4,417.7 L564.8,418.4 L562.2,419.1 L559.6,419.9 L557.0,420.6 L554.5,421.4 L551.9,422.1 L549.4,422.9 L546.8,423.6 L544.3,424.4 L541.8,425.2 L539.4,426.0 L536.9,426.7 L534.6,427.6 L532.2,428.4 L529.9,429.2 L527.6,430.1 L525.4,431.0 L523.3,431.9 L521.3,432.8 L519.3,433.7 L517.4,434.7 L515.6,435.7 L513.9,436.7 Z" style="stroke-width:1.3"/><path class="l" d="M517.8,390.8 L519.4,390.2 L521.1,391.7 L522.9,390.1 L524.8,387.0 L526.7,385.9 L528.8,385.3 L530.9,386.2 L533.1,388.5 L535.3,391.9 L537.6,396.1 L539.9,400.7 L542.3,405.4 L544.7,409.7 L547.1,413.2 L549.5,415.6 L552.0,416.8 L554.5,416.5 L557.0,415.7 L559.5,414.9 L562.0,414.2 L564.5,413.4 L567.0,412.7 L569.5,411.9 L572.1,411.1 L517.8,434.7" style="stroke-width:1.05"/>
<path class="w" d="M682.5,391.6 L679.5,391.3 L676.7,393.1 L674.0,391.8 L671.4,388.9 L668.9,387.9 L666.5,387.5 L664.1,388.5 L661.9,390.9 L659.6,394.4 L657.5,398.8 L655.3,403.5 L653.3,408.3 L651.2,412.6 L649.2,416.2 L647.3,418.6 L645.3,419.7 L643.4,419.3 L641.5,418.3 L639.6,417.4 L637.7,416.5 L635.8,415.5 L634.0,414.6 L632.1,413.6 L630.2,412.7 L630.2,419.7 L632.1,420.6 L634.0,421.6 L635.8,422.5 L637.7,423.5 L639.6,424.4 L641.5,425.3 L643.4,426.3 L645.3,427.2 L647.3,428.1 L649.2,429.0 L651.2,429.9 L653.3,430.8 L655.3,431.7 L657.5,432.6 L659.6,433.5 L661.9,434.4 L664.1,435.2 L666.5,436.0 L668.9,436.9 L671.4,437.7 L674.0,438.4 L676.7,439.2 L679.5,439.9 L682.5,440.6 Z" style="stroke-width:1.3"/><path class="l" d="M684.5,391.6 L681.6,391.4 L678.7,393.2 L676.0,391.9 L673.3,389.0 L670.7,388.0 L668.2,387.6 L665.8,388.7 L663.4,391.1 L661.2,394.7 L658.9,399.0 L656.7,403.8 L654.6,408.6 L652.4,413.0 L650.4,416.5 L648.3,419.0 L646.3,420.1 L644.3,419.7 L642.3,418.7 L640.3,417.8 L638.3,416.9 L636.4,416.0 L634.4,415.1 L632.4,414.2 L630.5,413.2 L684.5,438.6" style="stroke-width:1.05"/>
<path class="w" d="M543.3,393.7 L544.1,393.0 L544.9,394.4 L545.9,392.7 L547.0,389.5 L548.1,388.2 L549.4,387.5 L550.7,388.4 L552.2,390.7 L553.6,394.2 L555.2,398.6 L556.8,403.4 L558.4,408.2 L560.1,412.6 L561.8,416.3 L563.6,418.7 L565.4,419.8 L567.1,419.4 L569.0,418.4 L570.8,417.5 L572.6,416.5 L574.5,415.6 L576.3,414.6 L578.2,413.7 L580.0,412.7 L580.0,419.7 L578.2,420.7 L576.3,421.6 L574.5,422.6 L572.6,423.5 L570.8,424.5 L569.0,425.4 L567.1,426.4 L565.4,427.3 L563.6,428.3 L561.8,429.3 L560.1,430.2 L558.4,431.2 L556.8,432.2 L555.2,433.2 L553.6,434.2 L552.2,435.2 L550.7,436.2 L549.4,437.3 L548.1,438.3 L547.0,439.4 L545.9,440.5 L544.9,441.6 L544.1,442.7 L543.3,443.9 Z" style="stroke-width:1.3"/><path class="l" d="M547.5,395.1 L548.1,394.3 L548.8,395.7 L549.7,394.0 L550.7,390.8 L551.8,389.5 L553.0,388.8 L554.2,389.7 L555.5,392.0 L556.9,395.5 L558.4,399.8 L559.9,404.6 L561.5,409.4 L563.1,413.8 L564.7,417.4 L566.3,419.9 L568.0,421.0 L569.7,420.5 L571.5,419.5 L573.2,418.6 L574.9,417.6 L576.7,416.6 L578.5,415.7 L580.2,414.7 L582.0,413.7 L547.5,441.9" style="stroke-width:1.05"/>
<path class="w" d="M650.3,395.3 L648.1,394.8 L646.0,396.3 L644.1,394.8 L642.2,391.7 L640.5,390.5 L638.9,389.9 L637.3,390.8 L635.9,393.2 L634.5,396.8 L633.2,401.2 L631.9,406.1 L630.7,411.0 L629.5,415.4 L628.4,419.1 L627.3,421.5 L626.2,422.5 L625.2,422.0 L624.1,420.9 L623.1,419.9 L622.1,418.8 L621.2,417.7 L620.2,416.6 L619.2,415.6 L618.2,414.5 L618.2,421.5 L619.2,422.6 L620.2,423.6 L621.2,424.7 L622.1,425.8 L623.1,426.9 L624.1,427.9 L625.2,429.0 L626.2,430.1 L627.3,431.1 L628.4,432.2 L629.5,433.3 L630.7,434.3 L631.9,435.4 L633.2,436.4 L634.5,437.4 L635.9,438.5 L637.3,439.5 L638.9,440.5 L640.5,441.5 L642.2,442.5 L644.1,443.5 L646.0,444.5 L648.1,445.4 L650.3,446.3 Z" style="stroke-width:1.3"/><path class="l" d="M653.3,395.6 L651.0,395.1 L648.9,396.7 L646.8,395.1 L644.9,392.0 L643.1,390.8 L641.4,390.3 L639.8,391.2 L638.2,393.6 L636.8,397.2 L635.4,401.7 L634.0,406.5 L632.7,411.4 L631.4,415.9 L630.2,419.6 L629.0,422.0 L627.8,423.0 L626.7,422.5 L625.6,421.5 L624.5,420.4 L623.4,419.3 L622.3,418.3 L621.2,417.2 L620.1,416.1 L619.1,415.1 L653.3,444.3" style="stroke-width:1.05"/>
<path class="w" d="M577.8,396.4 L577.5,395.6 L577.3,397.0 L577.3,395.3 L577.4,392.0 L577.5,390.6 L577.8,389.9 L578.2,390.8 L578.7,393.1 L579.3,396.7 L579.9,401.1 L580.5,406.0 L581.3,410.9 L582.0,415.4 L582.8,419.1 L583.7,421.6 L584.5,422.6 L585.4,422.1 L586.4,421.0 L587.3,419.9 L588.2,418.8 L589.2,417.7 L590.1,416.7 L591.1,415.6 L592.0,414.5 L592.0,421.5 L591.1,422.6 L590.1,423.7 L589.2,424.7 L588.2,425.8 L587.3,426.9 L586.4,428.0 L585.4,429.1 L584.5,430.1 L583.7,431.2 L582.8,432.3 L582.0,433.4 L581.3,434.5 L580.5,435.6 L579.9,436.7 L579.3,437.8 L578.7,438.9 L578.2,440.0 L577.8,441.2 L577.5,442.3 L577.4,443.4 L577.3,444.6 L577.3,445.7 L577.5,446.9 L577.8,448.1 Z" style="stroke-width:1.3"/><path class="l" d="M581.8,397.3 L581.4,396.6 L581.2,398.0 L581.1,396.2 L581.0,392.9 L581.1,391.6 L581.3,390.9 L581.6,391.7 L582.0,394.1 L582.5,397.6 L583.0,402.1 L583.6,407.0 L584.2,411.9 L584.8,416.4 L585.6,420.0 L586.3,422.5 L587.1,423.5 L587.9,423.0 L588.7,421.9 L589.5,420.8 L590.3,419.7 L591.2,418.6 L592.1,417.5 L592.9,416.4 L593.8,415.4 L581.8,446.1" style="stroke-width:1.05"/>
<path class="w" d="M614.4,396.9 L613.1,396.3 L611.9,397.7 L610.9,396.0 L610.0,392.7 L609.2,391.4 L608.5,390.7 L607.9,391.6 L607.4,394.0 L606.9,397.6 L606.6,402.0 L606.3,407.0 L606.0,411.9 L605.8,416.4 L605.6,420.1 L605.5,422.5 L605.4,423.5 L605.3,423.0 L605.3,421.8 L605.2,420.7 L605.2,419.6 L605.2,418.5 L605.2,417.4 L605.1,416.2 L605.1,415.1 L605.1,422.1 L605.1,423.2 L605.2,424.4 L605.2,425.5 L605.2,426.6 L605.2,427.7 L605.3,428.8 L605.3,430.0 L605.4,431.1 L605.5,432.2 L605.6,433.3 L605.8,434.4 L606.0,435.6 L606.3,436.7 L606.6,437.8 L606.9,438.9 L607.4,440.0 L607.9,441.1 L608.5,442.3 L609.2,443.4 L610.0,444.5 L610.9,445.6 L611.9,446.7 L613.1,447.8 L614.4,448.9 Z" style="stroke-width:1.3"/><path class="l" d="M618.1,397.5 L616.7,396.9 L615.4,398.3 L614.3,396.6 L613.3,393.4 L612.4,392.1 L611.7,391.4 L611.0,392.3 L610.3,394.6 L609.8,398.2 L609.3,402.7 L608.9,407.6 L608.6,412.6 L608.3,417.1 L608.0,420.8 L607.8,423.2 L607.6,424.2 L607.4,423.6 L607.2,422.5 L607.1,421.4 L606.9,420.3 L606.8,419.2 L606.7,418.0 L606.6,416.9 L606.5,415.8 L618.1,446.9" style="stroke-width:1.05"/>
<path class="w" d="M599,452 l0,3 l10,0 l0,-3 z" style="stroke-width:0.9"/>
<path class="l" d="M734.5,405.2 L751.8,405.2"/>
<!-- 51_grooves.py -->
<path class="l" d="M473.4,899.7 L476.1,898.9 L478.9,898.5 L481.8,898.4 L484.8,898.7 L487.9,899.4 L491.1,900.4 L494.2,901.8 L497.4,903.6 L500.6,905.6 L503.7,908.0 L506.8,910.7 L509.8,913.7 L512.7,916.9 L515.5,920.4 L518.1,924.1 L520.6,928.0 L522.9,932.1 L525.1,936.3 L527.0,940.6 L528.7,945.0 L530.2,949.5 L531.4,953.9 L532.4,958.4 L533.2,962.8 L533.7,967.1 L533.9,971.3 L533.8,975.4 L533.5,979.4 L533.0,983.1 L532.1,986.7 L531.1,990.0 L529.8,993.0 L528.2,995.8 L526.4,998.3 L524.4,1000.4 L522.2,1002.2 L519.9,1003.7 L517.3,1004.8 L514.6,1005.6 L511.8,1006.0"/>
<path class="l" d="M476.9,898.1 L479.6,897.3 L482.4,896.9 L485.3,896.8 L488.3,897.1 L491.4,897.8 L494.6,898.8 L497.7,900.2 L500.9,902.0 L504.1,904.1 L507.2,906.4 L510.3,909.1 L513.3,912.1 L516.2,915.4 L519.0,918.9 L521.6,922.6 L524.1,926.5 L526.4,930.5 L528.6,934.7 L530.5,939.1 L532.2,943.4 L533.7,947.9 L534.9,952.3 L535.9,956.8 L536.7,961.2 L537.2,965.5 L537.4,969.8 L537.3,973.9 L537.0,977.8 L536.5,981.6 L535.6,985.1 L534.6,988.4 L533.3,991.5 L531.7,994.2 L529.9,996.7 L527.9,998.8 L525.7,1000.6 L523.4,1002.1 L520.8,1003.2 L518.1,1004.0 L515.3,1004.4"/>
<path class="l" d="M479.9,896.8 L482.6,896.0 L485.4,895.5 L488.3,895.5 L491.3,895.8 L494.4,896.5 L497.6,897.5 L500.7,898.9 L503.9,900.6 L507.1,902.7 L510.2,905.1 L513.3,907.8 L516.3,910.8 L519.2,914.0 L522.0,917.5 L524.6,921.2 L527.1,925.1 L529.4,929.2 L531.6,933.4 L533.5,937.7 L535.2,942.1 L536.7,946.5 L537.9,951.0 L538.9,955.4 L539.7,959.9 L540.2,964.2 L540.4,968.4 L540.3,972.5 L540.0,976.5 L539.5,980.2 L538.6,983.8 L537.6,987.1 L536.3,990.1 L534.7,992.9 L532.9,995.3 L530.9,997.5 L528.7,999.3 L526.4,1000.8 L523.8,1001.9 L521.1,1002.7 L518.3,1003.0"/>
<path class="l" d="M482.9,895.4 L485.6,894.6 L488.4,894.2 L491.3,894.1 L494.3,894.4 L497.4,895.1 L500.6,896.1 L503.7,897.5 L506.9,899.3 L510.1,901.4 L513.2,903.7 L516.3,906.4 L519.3,909.4 L522.2,912.7 L525.0,916.2 L527.6,919.9 L530.1,923.8 L532.4,927.8 L534.6,932.0 L536.5,936.4 L538.2,940.7 L539.7,945.2 L540.9,949.6 L541.9,954.1 L542.7,958.5 L543.2,962.8 L543.4,967.1 L543.3,971.2 L543.0,975.1 L542.5,978.9 L541.6,982.4 L540.6,985.7 L539.3,988.8 L537.7,991.5 L535.9,994.0 L533.9,996.1 L531.7,997.9 L529.4,999.4 L526.8,1000.5 L524.1,1001.3 L521.3,1001.7"/>
<path class="l" d="M485.9,894.1 L488.6,893.3 L491.4,892.8 L494.3,892.8 L497.3,893.1 L500.4,893.8 L503.6,894.8 L506.7,896.2 L509.9,897.9 L513.1,900.0 L516.2,902.4 L519.3,905.1 L522.3,908.1 L525.2,911.3 L528.0,914.8 L530.6,918.5 L533.1,922.4 L535.4,926.5 L537.6,930.7 L539.5,935.0 L541.2,939.4 L542.7,943.8 L543.9,948.3 L544.9,952.7 L545.7,957.2 L546.2,961.5 L546.4,965.7 L546.3,969.8 L546.0,973.8 L545.5,977.5 L544.6,981.1 L543.6,984.4 L542.3,987.4 L540.7,990.2 L538.9,992.6 L536.9,994.8 L534.7,996.6 L532.4,998.1 L529.8,999.2 L527.1,1000.0 L524.3,1000.3"/>
<path class="l" d="M488.9,892.7 L491.6,891.9 L494.4,891.5 L497.3,891.4 L500.3,891.7 L503.4,892.4 L506.6,893.4 L509.7,894.8 L512.9,896.6 L516.1,898.7 L519.2,901.0 L522.3,903.7 L525.3,906.7 L528.2,910.0 L531.0,913.5 L533.6,917.2 L536.1,921.1 L538.4,925.1 L540.6,929.3 L542.5,933.7 L544.2,938.0 L545.7,942.5 L546.9,946.9 L547.9,951.4 L548.7,955.8 L549.2,960.1 L549.4,964.4 L549.3,968.5 L549.0,972.4 L548.5,976.2 L547.6,979.7 L546.6,983.0 L545.3,986.1 L543.7,988.8 L541.9,991.3 L539.9,993.4 L537.7,995.2 L535.4,996.7 L532.8,997.8 L530.1,998.6 L527.3,999.0"/>
<!-- 52_rings.py -->
<path class="w" d="M155.2,1033.2 L155.0,1028.8 L155.0,1024.4 L155.3,1020.0 L155.7,1015.8 L156.3,1011.7 L157.1,1007.8 L158.2,1004.0 L159.4,1000.5 L160.8,997.1 L162.4,994.0 L164.2,991.2 L166.1,988.6 L168.2,986.2 L170.4,984.2 L172.7,982.5 L175.2,981.0 L177.7,979.9 L180.4,979.1 L183.1,978.7 L185.9,978.5 L188.7,978.7 L191.6,979.3 L194.5,980.1 L197.3,981.3 L200.2,982.8 L203.0,984.6 L205.8,986.6 L208.6,989.0 L211.2,991.7 L213.8,994.6 L216.3,997.7 L218.6,1001.1 L220.9,1004.7 L223.0,1008.5 L224.9,1012.5 L226.7,1016.6 L228.3,1020.8 L229.8,1025.2 L231.0,1029.6 L232.1,1034.1 L233.0,1038.6 L233.6,1043.1 L234.1,1047.7 L234.3,1052.2 L234.4,1056.6 L234.2,1060.9 L233.8,1065.2 L233.3,1069.3 L232.5,1073.3 L231.5,1077.1 L230.3,1080.7 L228.9,1084.1 L227.4,1087.2 L225.7,1090.2 L223.8,1092.8 L221.8,1095.2 L219.6,1097.3 L217.3,1099.1 L214.8,1100.6 L212.3,1101.8 L209.7,1102.7 L207.0,1103.2 L204.2,1103.5 L201.4,1103.3 L198.5,1102.9 L195.6,1102.1 L192.8,1101.0 L189.9,1099.6 L187.0,1097.9 L184.2,1095.9 L181.5,1093.6 L178.8,1091.0 L176.2,1088.1 L173.7,1085.0 L171.3,1081.7 L169.1,1078.2 L166.9,1074.4 L164.9,1070.5 L163.1,1066.4 L161.5,1062.2 L167.6,1059.9 L169.1,1063.8 L170.7,1067.5 L172.5,1071.1 L174.4,1074.5 L176.4,1077.8 L178.4,1080.8 L180.6,1083.7 L182.9,1086.3 L185.2,1088.7 L187.6,1090.8 L190.1,1092.7 L192.5,1094.3 L195.0,1095.6 L197.5,1096.7 L200.0,1097.4 L202.4,1097.8 L204.9,1098.0 L207.2,1097.8 L209.5,1097.4 L211.8,1096.6 L214.0,1095.6 L216.0,1094.2 L218.0,1092.6 L219.8,1090.7 L221.5,1088.6 L223.1,1086.2 L224.6,1083.5 L225.8,1080.6 L227.0,1077.6 L227.9,1074.3 L228.7,1070.9 L229.3,1067.2 L229.8,1063.5 L230.1,1059.6 L230.1,1055.7 L230.1,1051.7 L229.8,1047.6 L229.3,1043.4 L228.7,1039.3 L227.9,1035.2 L226.9,1031.1 L225.8,1027.0 L224.5,1023.1 L223.1,1019.2 L221.5,1015.4 L219.7,1011.8 L217.9,1008.3 L215.9,1005.0 L213.9,1001.9 L211.7,999.0 L209.5,996.3 L207.1,993.9 L204.8,991.7 L202.3,989.7 L199.9,988.1 L197.4,986.7 L194.9,985.6 L192.4,984.7 L190.0,984.2 L187.5,984.0 L185.1,984.1 L182.8,984.5 L180.5,985.2 L178.4,986.2 L176.3,987.4 L174.3,989.0 L172.4,990.8 L170.7,992.9 L169.1,995.2 L167.6,997.8 L166.3,1000.6 L165.1,1003.7 L164.1,1006.9 L163.3,1010.3 L162.6,1013.9 L162.1,1017.6 L161.8,1021.4 L161.7,1025.3 L161.7,1029.4 L161.9,1033.4 Z" style="stroke-width:1.1"/><path class="l" d="M159.7,1009.4 L160.6,1005.8 L161.7,1002.3 L163.1,999.0 L164.5,995.9 L166.2,993.1 L168.0,990.5 L169.9,988.2 L172.0,986.1 L174.2,984.3 L176.6,982.8 L179.0,981.6 L181.5,980.7 L184.1,980.1 L186.7,979.9 L189.5,979.9 L192.2,980.2 L195.0,980.9 L197.7,981.8 L200.5,983.1 L203.3,984.7 L206.0,986.5 L208.7,988.6 L211.3,991.0 L213.8,993.6 L216.3,996.5 L218.7,999.6 L220.9,1003.0 L223.1,1006.5 L225.1,1010.2 L226.9,1014.0 L228.6,1018.0 L230.2,1022.1 L231.6,1026.3 L232.8,1030.6 L233.8,1035.0 L234.6,1039.4 L235.3,1043.7 L235.8,1048.1 L236.0,1052.5" style="stroke-width:0.9"/>
<path class="w" d="M306.7,1060.7 L305.1,1063.9 L303.3,1066.7 L301.4,1069.3 L299.3,1071.7 L297.1,1073.7 L294.7,1075.5 L292.2,1076.9 L289.7,1078.1 L287.0,1078.9 L284.2,1079.3 L281.4,1079.5 L278.6,1079.3 L275.7,1078.8 L272.8,1078.0 L269.9,1076.8 L267.0,1075.3 L264.2,1073.5 L261.3,1071.5 L258.6,1069.1 L255.9,1066.5 L253.4,1063.5 L250.9,1060.4 L248.5,1057.0 L246.3,1053.4 L244.2,1049.7 L242.3,1045.7 L240.5,1041.6 L238.9,1037.4 L237.5,1033.1 L236.3,1028.7 L235.3,1024.2 L234.4,1019.7 L233.8,1015.2 L233.4,1010.7 L233.2,1006.3 L233.2,1001.9 L233.5,997.6 L233.9,993.4 L234.5,989.3 L235.4,985.4 L236.5,981.7 L237.7,978.1 L239.1,974.8 L240.8,971.7 L242.6,968.9 L244.5,966.3 L246.6,964.0 L248.9,962.0 L251.2,960.3 L253.7,958.9 L256.3,957.8 L259.0,957.0 L261.8,956.6 L264.6,956.5 L267.4,956.7 L270.3,957.3 L273.2,958.2 L276.1,959.4 L279.0,960.9 L281.8,962.7 L284.6,964.9 L287.4,967.3 L290.0,969.9 L292.6,972.9 L295.1,976.1 L297.4,979.5 L299.6,983.1 L301.7,986.9 L303.6,990.9 L305.3,995.0 L306.9,999.2 L308.3,1003.6 L309.5,1008.0 L310.5,1012.4 L311.3,1016.9 L311.9,1021.4 L312.2,1025.9 L312.4,1030.4 L312.4,1034.8 L312.1,1039.0 L308.0,1037.6 L308.1,1033.7 L308.1,1029.7 L307.9,1025.7 L307.6,1021.6 L307.0,1017.5 L306.3,1013.4 L305.3,1009.3 L304.3,1005.3 L303.0,1001.3 L301.6,997.5 L300.1,993.7 L298.4,990.1 L296.6,986.6 L294.6,983.3 L292.6,980.2 L290.4,977.2 L288.2,974.5 L285.9,972.1 L283.5,969.8 L281.1,967.9 L278.6,966.2 L276.1,964.8 L273.6,963.6 L271.1,962.8 L268.6,962.2 L266.2,962.0 L263.8,962.1 L261.4,962.4 L259.1,963.1 L256.9,964.0 L254.8,965.3 L252.8,966.8 L250.9,968.6 L249.1,970.6 L247.4,973.0 L245.9,975.5 L244.6,978.3 L243.4,981.3 L242.4,984.5 L241.5,987.9 L240.8,991.4 L240.3,995.1 L240.0,998.9 L239.8,1002.8 L239.9,1006.8 L240.1,1010.9 L240.5,1015.0 L241.1,1019.1 L241.9,1023.2 L242.8,1027.2 L243.9,1031.3 L245.2,1035.2 L246.6,1039.1 L248.2,1042.8 L249.9,1046.4 L251.7,1049.9 L253.7,1053.2 L255.7,1056.3 L257.9,1059.2 L260.1,1061.8 L262.5,1064.3 L264.8,1066.5 L267.3,1068.4 L269.7,1070.0 L272.2,1071.4 L274.7,1072.5 L277.2,1073.3 L279.7,1073.8 L282.2,1074.0 L284.6,1073.9 L286.9,1073.5 L289.2,1072.8 L291.4,1071.8 L293.5,1070.5 L295.5,1069.0 L297.4,1067.1 L299.2,1065.0 L300.8,1062.7 L302.3,1060.1 L303.6,1057.3 Z" style="stroke-width:1.1"/><path class="l" d="M297.1,1075.6 L294.7,1077.0 L292.3,1078.2 L289.7,1079.0 L287.1,1079.6 L284.4,1079.8 L281.7,1079.7 L278.9,1079.3 L276.1,1078.6 L273.3,1077.6 L270.5,1076.3 L267.7,1074.7 L265.0,1072.8 L262.3,1070.6 L259.7,1068.2 L257.2,1065.5 L254.7,1062.6 L252.4,1059.4 L250.2,1056.1 L248.1,1052.5 L246.1,1048.8 L244.3,1044.9 L242.6,1040.9 L241.2,1036.8 L239.8,1032.6 L238.7,1028.3 L237.8,1024.0 L237.0,1019.6 L236.4,1015.2 L236.1,1010.9 L235.9,1006.6 L235.9,1002.3 L236.2,998.2 L236.6,994.1 L237.2,990.2 L238.0,986.4 L239.1,982.8 L240.2,979.4 L241.6,976.2 L243.2,973.2" style="stroke-width:0.9"/>
<path class="w" d="M355.3,942.5 L358.2,944.2 L361.0,946.3 L363.8,948.7 L366.5,951.4 L369.1,954.4 L371.6,957.6 L374.0,961.1 L376.2,964.8 L378.4,968.7 L380.3,972.7 L382.1,977.0 L383.8,981.3 L385.2,985.8 L386.5,990.4 L387.6,995.0 L388.4,999.6 L389.1,1004.3 L389.5,1008.9 L389.7,1013.5 L389.8,1018.0 L389.6,1022.5 L389.1,1026.8 L388.5,1030.9 L387.7,1034.9 L386.6,1038.8 L385.4,1042.4 L384.0,1045.7 L382.3,1048.9 L380.5,1051.7 L378.6,1054.3 L376.5,1056.6 L374.2,1058.5 L371.9,1060.2 L369.4,1061.5 L366.8,1062.5 L364.1,1063.1 L361.3,1063.4 L358.5,1063.4 L355.7,1063.0 L352.8,1062.2 L349.9,1061.1 L347.0,1059.7 L344.1,1058.0 L341.3,1055.9 L338.5,1053.5 L335.8,1050.9 L333.2,1047.9 L330.7,1044.7 L328.3,1041.3 L326.0,1037.6 L323.9,1033.7 L321.9,1029.7 L320.0,1025.5 L318.4,1021.1 L316.9,1016.7 L315.6,1012.1 L314.5,1007.5 L313.7,1002.9 L313.0,998.2 L312.5,993.6 L312.3,989.0 L312.2,984.4 L312.4,980.0 L312.8,975.7 L313.4,971.5 L314.2,967.5 L315.3,963.6 L316.5,960.0 L317.9,956.6 L319.5,953.5 L321.3,950.6 L323.2,948.0 L325.3,945.7 L327.5,943.7 L329.9,942.0 L332.4,940.6 L335.0,939.6 L337.6,938.9 L340.4,938.6 L343.2,938.6 L344.7,944.1 L342.3,944.1 L339.9,944.3 L337.7,944.9 L335.5,945.8 L333.4,947.0 L331.4,948.5 L329.5,950.3 L327.7,952.4 L326.1,954.7 L324.6,957.3 L323.3,960.1 L322.1,963.2 L321.1,966.5 L320.3,970.0 L319.7,973.6 L319.2,977.4 L318.9,981.4 L318.8,985.4 L318.9,989.5 L319.2,993.7 L319.7,997.9 L320.3,1002.2 L321.1,1006.4 L322.1,1010.6 L323.3,1014.8 L324.6,1018.9 L326.1,1022.9 L327.7,1026.7 L329.5,1030.4 L331.3,1034.0 L333.3,1037.4 L335.4,1040.5 L337.6,1043.5 L339.9,1046.2 L342.3,1048.6 L344.7,1050.8 L347.1,1052.8 L349.6,1054.4 L352.1,1055.7 L354.5,1056.7 L357.0,1057.5 L359.5,1057.9 L361.9,1057.9 L364.2,1057.7 L366.5,1057.2 L368.7,1056.3 L370.8,1055.1 L372.8,1053.7 L374.7,1051.9 L376.5,1049.9 L378.1,1047.6 L379.6,1045.0 L381.0,1042.2 L382.1,1039.1 L383.2,1035.9 L384.0,1032.4 L384.7,1028.8 L385.1,1025.0 L385.4,1021.1 L385.5,1017.0 L385.5,1012.9 L385.2,1008.7 L384.8,1004.5 L384.2,1000.3 L383.4,996.0 L382.4,991.8 L381.2,987.6 L379.9,983.5 L378.5,979.6 L376.9,975.7 L375.1,971.9 L373.3,968.4 L371.3,965.0 L369.2,961.8 L367.0,958.8 L364.7,956.1 L362.4,953.6 L360.0,951.4 L357.6,949.4 L355.1,947.8 Z" style="stroke-width:1.1"/><path class="l" d="M373.0,958.2 L375.3,961.5 L377.6,965.1 L379.6,968.8 L381.6,972.7 L383.4,976.7 L385.0,980.9 L386.5,985.2 L387.8,989.6 L388.9,994.1 L389.8,998.6 L390.5,1003.1 L391.0,1007.6 L391.4,1012.1 L391.5,1016.5 L391.4,1020.8 L391.1,1025.1 L390.6,1029.2 L389.9,1033.1 L389.1,1037.0 L388.0,1040.6 L386.7,1044.0 L385.3,1047.2 L383.7,1050.1 L381.9,1052.8 L380.0,1055.2 L378.0,1057.4 L375.8,1059.2 L373.5,1060.8 L371.0,1062.0 L368.5,1062.9 L365.9,1063.5 L363.3,1063.7 L360.6,1063.6 L357.8,1063.2 L355.0,1062.5 L352.2,1061.5 L349.4,1060.1 L346.7,1058.4 L344.0,1056.4" style="stroke-width:0.9"/>
<path class="w" d="M342.3,974.0 L342.3,969.4 L342.4,964.8 L342.8,960.3 L343.4,956.0 L344.3,951.8 L345.3,947.8 L346.6,944.0 L348.0,940.5 L349.6,937.1 L351.4,934.1 L353.4,931.3 L355.6,928.7 L357.9,926.5 L360.3,924.6 L362.9,923.0 L365.6,921.8 L368.3,920.9 L371.2,920.3 L374.1,920.1 L377.1,920.2 L380.1,920.7 L383.2,921.5 L386.2,922.7 L389.2,924.1 L392.2,926.0 L395.2,928.1 L398.1,930.5 L400.9,933.3 L403.6,936.3 L406.3,939.5 L408.8,943.0 L411.2,946.8 L413.4,950.7 L415.5,954.8 L417.4,959.1 L419.1,963.5 L420.7,968.1 L422.0,972.7 L423.2,977.4 L424.1,982.2 L424.9,986.9 L425.4,991.7 L425.7,996.4 L425.7,1001.1 L425.6,1005.7 L425.2,1010.2 L424.6,1014.5 L423.8,1018.7 L422.8,1022.7 L421.6,1026.5 L420.2,1030.1 L418.6,1033.5 L416.8,1036.6 L414.8,1039.4 L412.7,1042.0 L410.4,1044.2 L408.0,1046.2 L405.4,1047.8 L402.7,1049.1 L400.0,1050.0 L397.1,1050.6 L394.2,1050.9 L391.2,1050.8 L388.2,1050.4 L385.2,1049.6 L382.1,1048.5 L379.1,1047.0 L376.1,1045.3 L373.1,1043.2 L370.2,1040.8 L367.4,1038.1 L364.7,1035.1 L362.0,1031.9 L359.5,1028.4 L357.1,1024.7 L354.8,1020.8 L352.7,1016.6 L350.8,1012.4 L349.1,1008.0 L347.5,1003.4 L354.8,1001.1 L356.1,1005.2 L357.7,1009.2 L359.4,1013.1 L361.2,1016.8 L363.1,1020.3 L365.2,1023.7 L367.4,1026.9 L369.6,1029.8 L372.0,1032.5 L374.4,1035.0 L376.9,1037.2 L379.4,1039.1 L382.0,1040.8 L384.5,1042.1 L387.1,1043.2 L389.7,1043.9 L392.2,1044.3 L394.7,1044.4 L397.2,1044.3 L399.5,1043.7 L401.9,1042.9 L404.1,1041.8 L406.2,1040.4 L408.2,1038.7 L410.1,1036.7 L411.9,1034.4 L413.5,1031.9 L414.9,1029.1 L416.3,1026.1 L417.4,1022.9 L418.4,1019.5 L419.2,1015.9 L419.8,1012.2 L420.2,1008.3 L420.5,1004.2 L420.5,1000.1 L420.4,995.9 L420.1,991.7 L419.6,987.4 L418.9,983.1 L418.0,978.8 L417.0,974.6 L415.8,970.4 L414.4,966.3 L412.9,962.3 L411.2,958.4 L409.4,954.6 L407.5,951.1 L405.4,947.7 L403.3,944.5 L401.0,941.5 L398.7,938.8 L396.3,936.3 L393.8,934.0 L391.3,932.1 L388.7,930.4 L386.2,929.0 L383.6,928.0 L381.0,927.2 L378.5,926.7 L376.0,926.6 L373.5,926.7 L371.1,927.2 L368.8,928.0 L366.6,929.0 L364.4,930.4 L362.4,932.1 L360.5,934.1 L358.7,936.3 L357.1,938.8 L355.6,941.5 L354.3,944.5 L353.1,947.7 L352.1,951.1 L351.3,954.7 L350.7,958.4 L350.2,962.3 L350.0,966.3 L349.9,970.4 L350.0,974.6 Z" style="stroke-width:1.1"/><path d="M349.0,972.2 L343.2,972.2 M349.0,969.4 L343.2,969.2 M349.1,966.6 L343.2,966.3 M349.2,963.9 L343.4,963.3 M349.5,961.2 L343.7,960.5 M349.8,958.6 L344.0,957.7 M350.2,956.1 L344.5,954.9 M350.7,953.6 L345.0,952.2 M351.3,951.2 L345.7,949.6 M351.9,948.9 L346.4,947.1 M352.7,946.7 L347.2,944.6 M353.5,944.6 L348.1,942.2 M354.3,942.5 L349.1,940.0 M355.2,940.6 L350.1,937.8 M356.2,938.8 L351.3,935.7 M357.3,937.1 L352.5,933.8 M358.4,935.6 L353.8,931.9 M359.6,934.1 L355.2,930.2 M360.8,932.8 L356.7,928.6 M362.0,931.6 L358.3,927.1 M363.3,930.5 L359.9,925.7 M364.6,929.5 L361.6,924.5 M366.0,928.7 L363.3,923.5 M367.4,928.0 L365.2,922.6 M368.8,927.4 L367.0,921.8 M370.2,926.9 L368.9,921.2 M371.7,926.6 L370.9,920.8 M373.2,926.3 L372.9,920.5 M374.8,926.2 L374.9,920.4 M376.4,926.3 L376.9,920.5 M377.9,926.4 L379.0,920.7 M379.6,926.7 L381.0,921.0 M381.2,927.1 L383.0,921.6 M382.9,927.7 L385.1,922.2 M384.6,928.3 L387.1,923.0 M386.3,929.1 L389.1,924.0 M388.0,930.1 L391.1,925.1 M389.7,931.1 L393.0,926.4 M391.3,932.3 L395.0,927.7 M393.0,933.6 L396.9,929.2 M394.7,935.1 L398.7,930.9 M396.4,936.7 L400.6,932.6 M398.0,938.3 L402.4,934.5 M399.6,940.1 L404.1,936.4 M401.1,942.1 L405.8,938.5 M402.7,944.1 L407.5,940.7 M404.2,946.2 L409.1,943.0 M405.6,948.4 L410.6,945.4 M407.0,950.7 L412.1,947.8 M408.3,953.1 L413.5,950.4 M409.6,955.5 L414.9,953.0 M410.8,958.1 L416.2,955.7 M412.0,960.7 L417.4,958.5 M413.1,963.3 L418.5,961.3 M414.1,966.1 L419.6,964.2 M415.0,968.8 L420.6,967.1 M415.9,971.6 L421.5,970.0 M416.7,974.5 L422.4,973.0 M417.4,977.3 L423.1,976.1 M418.1,980.2 L423.8,979.1 M418.6,983.1 L424.4,982.2 M419.1,986.0 L424.9,985.2 M419.5,988.9 L425.3,988.3 M419.8,991.8 L425.6,991.4 M420.0,994.7 L425.9,994.4 M420.2,997.5 L426.0,997.4 M420.2,1000.4 L426.1,1000.4 M420.2,1003.1 L426.0,1003.4 M420.0,1005.9 L425.9,1006.3 M419.8,1008.6 L425.7,1009.2 M419.6,1011.2 L425.3,1012.1 M419.2,1013.8 L424.9,1014.8 M418.7,1016.3 L424.4,1017.6 M418.2,1018.7 L423.8,1020.2 M417.6,1021.1 L423.2,1022.8 M416.9,1023.3 L422.4,1025.3 M416.1,1025.5 L421.5,1027.7 M415.3,1027.6 L420.6,1030.0 M414.4,1029.5 L419.6,1032.2 M413.4,1031.4 L418.5,1034.3 M412.4,1033.1 L417.3,1036.4 M411.3,1034.7 L416.0,1038.3 M410.2,1036.2 L414.6,1040.1 M409.0,1037.6 L413.2,1041.7 M407.8,1038.9 L411.7,1043.3 M406.5,1040.0 L410.1,1044.7 M405.2,1041.1 L408.4,1045.9 M403.8,1041.9 L406.7,1047.1 M402.5,1042.7 L404.9,1048.0 M401.1,1043.4 L403.0,1048.9 M399.6,1043.9 L401.1,1049.5 M398.2,1044.3 L399.2,1050.0 M396.7,1044.6 L397.2,1050.4 M395.1,1044.7 L395.2,1050.6 M393.6,1044.8 L393.2,1050.6 M392.0,1044.7 L391.2,1050.5 M390.4,1044.4 L389.1,1050.2 M388.7,1044.1 L387.1,1049.7 M387.1,1043.6 L385.0,1049.1 M385.4,1043.0 L383.0,1048.3 M383.7,1042.3 L381.0,1047.4 M382.0,1041.4 L379.0,1046.4 M380.3,1040.4 L377.1,1045.2 M378.6,1039.2 L375.1,1043.9 M376.9,1038.0 L373.2,1042.5 M375.3,1036.6 L371.3,1040.9 M373.6,1035.1 L369.5,1039.2 M372.0,1033.4 L367.7,1037.4 M370.3,1031.7 L365.9,1035.5 M368.8,1029.8 L364.2,1033.4 M367.2,1027.9 L362.5,1031.3 M365.7,1025.8 L360.9,1029.1 M364.3,1023.6 L359.3,1026.7 M362.8,1021.4 L357.8,1024.3 M361.5,1019.0 L356.3,1021.8 M360.2,1016.6 L354.9,1019.2 M358.9,1014.1 L353.6,1016.5 M357.7,1011.5 L352.4,1013.8 M356.6,1008.9 L351.2,1011.0 M355.6,1006.2 L350.1,1008.1 " stroke="#333" stroke-width="0.8" fill="none"/>
<path class="w" d="M445.2,1014.2 L443.8,1017.8 L442.2,1021.2 L440.5,1024.3 L438.6,1027.1 L436.5,1029.8 L434.2,1032.1 L431.9,1034.2 L429.3,1035.9 L426.7,1037.4 L423.9,1038.6 L421.1,1039.4 L418.2,1039.9 L415.2,1040.1 L412.2,1039.9 L409.2,1039.5 L406.1,1038.7 L403.1,1037.6 L400.1,1036.1 L397.1,1034.4 L394.1,1032.4 L391.3,1030.0 L388.5,1027.5 L385.8,1024.6 L383.2,1021.5 L380.8,1018.2 L378.5,1014.7 L376.3,1010.9 L374.3,1007.0 L372.5,1003.0 L370.9,998.8 L369.4,994.5 L368.2,990.2 L367.1,985.7 L366.3,981.2 L365.7,976.8 L365.3,972.3 L365.1,967.8 L365.2,963.5 L365.4,959.1 L365.9,954.9 L366.6,950.9 L367.6,946.9 L368.7,943.2 L370.0,939.6 L371.6,936.2 L373.3,933.1 L375.2,930.2 L377.3,927.5 L379.5,925.1 L381.9,923.0 L384.4,921.2 L387.0,919.7 L389.7,918.6 L392.6,917.7 L395.5,917.1 L398.4,916.9 L401.4,917.0 L404.5,917.5 L407.5,918.2 L410.6,919.3 L413.6,920.7 L416.6,922.4 L419.5,924.4 L422.4,926.7 L425.2,929.2 L427.9,932.1 L430.5,935.1 L433.0,938.4 L435.3,941.9 L437.5,945.6 L439.5,949.5 L441.3,953.5 L443.0,957.7 L444.4,962.0 L445.7,966.3 L446.8,970.8 L447.6,975.2 L448.3,979.7 L448.7,984.2 L448.9,988.7 L444.6,988.2 L444.4,984.1 L444.0,980.0 L443.4,976.0 L442.6,971.9 L441.6,967.9 L440.5,963.9 L439.2,960.0 L437.7,956.2 L436.0,952.5 L434.3,948.9 L432.3,945.5 L430.3,942.3 L428.1,939.3 L425.8,936.5 L423.5,933.9 L421.0,931.5 L418.5,929.4 L415.9,927.6 L413.3,926.0 L410.7,924.7 L408.0,923.7 L405.4,923.0 L402.7,922.5 L400.1,922.4 L397.6,922.6 L395.1,923.0 L392.6,923.8 L390.3,924.8 L388.0,926.2 L385.8,927.8 L383.8,929.7 L381.9,931.8 L380.1,934.2 L378.5,936.8 L377.1,939.7 L375.8,942.7 L374.6,946.0 L373.7,949.4 L372.9,952.9 L372.4,956.6 L372.0,960.5 L371.8,964.4 L371.8,968.4 L372.0,972.4 L372.4,976.5 L373.0,980.6 L373.7,984.6 L374.7,988.7 L375.8,992.7 L377.1,996.6 L378.5,1000.4 L380.2,1004.1 L381.9,1007.7 L383.8,1011.1 L385.9,1014.3 L388.0,1017.4 L390.3,1020.2 L392.7,1022.8 L395.1,1025.2 L397.6,1027.4 L400.2,1029.2 L402.8,1030.8 L405.4,1032.2 L408.1,1033.2 L410.7,1034.0 L413.4,1034.4 L416.0,1034.6 L418.6,1034.5 L421.1,1034.0 L423.5,1033.3 L425.9,1032.3 L428.2,1031.0 L430.3,1029.4 L432.4,1027.6 L434.3,1025.4 L436.1,1023.1 L437.7,1020.5 L439.2,1017.7 L440.5,1014.6 L441.6,1011.4 Z" style="stroke-width:1.1"/><path class="l" d="M436.5,1032.1 L434.3,1034.2 L431.8,1036.0 L429.3,1037.4 L426.7,1038.6 L424.0,1039.5 L421.2,1040.1 L418.4,1040.4 L415.5,1040.3 L412.5,1040.0 L409.6,1039.3 L406.7,1038.4 L403.7,1037.1 L400.8,1035.6 L398.0,1033.7 L395.2,1031.6 L392.4,1029.3 L389.8,1026.6 L387.2,1023.8 L384.8,1020.7 L382.5,1017.4 L380.3,1013.9 L378.3,1010.3 L376.4,1006.4 L374.7,1002.5 L373.2,998.4 L371.8,994.2 L370.6,990.0 L369.7,985.7 L368.9,981.3 L368.3,977.0 L368.0,972.7 L367.8,968.4 L367.9,964.1 L368.1,960.0 L368.6,955.9 L369.3,951.9 L370.2,948.1 L371.2,944.5 L372.5,941.0" style="stroke-width:0.9"/>
<!-- 70_gasket.py -->
<path class="w" d="M596.8,1174.0 C599.1,1172.1 604.5,1170.4 609.5,1169.7 C614.4,1169.0 622.6,1170.4 626.4,1169.7 C630.2,1169.0 626.9,1166.5 632.0,1165.5 C637.2,1164.6 652.3,1164.8 657.4,1164.1 C662.6,1163.4 659.8,1161.5 663.1,1161.3 C666.4,1161.0 673.4,1162.9 677.2,1162.7 C680.9,1162.5 681.4,1160.2 685.6,1159.9 C689.9,1159.5 698.8,1159.8 702.5,1160.7 C706.3,1161.7 702.1,1164.5 708.2,1165.5 C714.3,1166.5 732.2,1166.9 739.2,1166.9 C746.3,1166.9 746.3,1165.3 750.5,1165.5 C754.7,1165.7 760.8,1167.2 764.6,1168.3 C768.3,1169.5 768.3,1171.9 773.0,1172.6 C777.7,1173.3 785.3,1171.4 792.8,1172.6 C800.3,1173.7 812.1,1177.3 818.2,1179.6 C824.3,1182.0 825.7,1184.8 829.4,1186.7 C833.2,1188.5 835.1,1188.5 840.7,1190.9 C846.4,1193.2 858.8,1198.4 863.3,1200.8 C867.8,1203.1 867.0,1203.3 867.5,1205.0 C868.0,1206.6 864.9,1208.5 866.1,1210.6 C867.3,1212.7 873.4,1215.1 874.6,1217.7 C875.7,1220.3 874.1,1223.8 873.2,1226.1 C872.2,1228.5 868.7,1229.4 868.9,1231.8 C869.2,1234.1 870.3,1238.4 874.6,1240.2 C878.8,1242.1 889.1,1241.9 894.3,1243.1 C899.5,1244.2 903.9,1245.6 905.6,1247.3 C907.2,1248.9 907.0,1250.6 904.2,1252.9 C901.4,1255.3 898.2,1255.4 888.7,1261.4 C879.2,1267.4 856.5,1283.5 847.2,1289.0 C837.9,1294.6 837.7,1293.7 832.8,1294.7 C828.0,1295.6 821.1,1293.4 818.2,1294.7 C815.3,1295.9 817.5,1300.8 815.3,1302.3 C813.2,1303.8 808.6,1304.0 805.2,1303.7 C801.8,1303.4 798.0,1301.9 795.0,1300.6 C792.1,1299.3 796.9,1296.7 787.7,1296.1 C778.5,1295.5 755.7,1297.2 740.1,1296.9 C724.4,1296.6 704.1,1295.4 694.1,1294.4 C684.1,1293.4 683.3,1292.5 680.0,1291.0 C676.7,1289.5 677.2,1286.8 674.3,1285.4 C671.5,1284.0 665.9,1284.0 663.1,1282.5 C660.2,1281.1 658.8,1278.8 657.4,1276.9 C656.0,1275.0 657.4,1272.9 654.6,1271.3 C651.8,1269.6 643.8,1268.7 640.5,1267.0 C637.2,1265.4 637.7,1263.3 634.9,1261.4 C632.0,1259.5 626.4,1257.6 623.6,1255.8 C620.8,1253.9 622.2,1253.2 617.9,1250.1 C613.7,1247.1 603.8,1240.2 598.2,1237.4 C592.6,1234.6 586.9,1235.1 584.1,1233.2 C581.3,1231.3 581.5,1228.3 581.3,1226.1 C581.0,1224.0 583.2,1222.1 582.7,1220.5 C582.2,1218.9 578.2,1218.9 578.5,1216.3 C578.7,1213.7 583.6,1208.5 584.1,1205.0 C584.6,1201.5 580.8,1197.7 581.3,1195.1 C581.8,1192.5 584.6,1191.8 586.9,1189.5 C589.3,1187.1 593.7,1183.6 595.4,1181.0 C597.0,1178.4 594.4,1175.9 596.8,1174.0 Z"/>
<path class="w" d="M599.6,1186.7 C601.5,1183.8 603.6,1183.6 609.5,1181.0 C615.4,1178.4 622.6,1173.0 634.9,1171.2 C647.1,1169.3 665.4,1169.0 682.8,1169.7 C700.2,1170.4 720.4,1173.5 739.2,1175.4 C758.0,1177.3 782.4,1179.1 795.6,1181.0 C808.8,1182.9 814.2,1184.3 818.2,1186.7 C822.2,1189.0 815.8,1193.0 819.6,1195.1 C823.3,1197.2 833.9,1196.8 840.7,1199.4 C847.5,1201.9 856.9,1207.1 860.5,1210.6 C864.0,1214.2 863.3,1217.0 861.9,1220.5 C860.5,1224.0 853.2,1228.5 852.0,1231.8 C850.8,1235.1 850.8,1236.4 854.8,1240.2 C858.8,1244.1 875.5,1249.7 876.0,1254.9 C876.4,1260.1 863.9,1266.4 857.6,1271.5 C851.4,1276.7 848.4,1283.4 838.5,1285.9 C828.5,1288.5 814.3,1285.9 797.9,1286.8 C781.5,1287.7 757.3,1291.1 740.1,1291.3 C722.8,1291.5 703.6,1290.6 694.1,1288.2 C684.5,1285.8 687.0,1280.7 682.8,1276.9 C678.6,1273.1 675.3,1268.4 668.7,1265.6 C662.1,1262.8 652.7,1264.2 643.3,1260.0 C633.9,1255.8 619.8,1245.4 612.3,1240.2 C604.8,1235.1 600.8,1233.7 598.2,1229.0 C595.6,1224.3 596.8,1217.2 596.8,1212.0 C596.8,1206.9 597.7,1202.2 598.2,1197.9 C598.7,1193.7 597.7,1189.5 599.6,1186.7 Z"/>
<path class="l" d="M598.2,1175.8 C600.3,1174.1 605.0,1172.6 609.8,1172.0 C614.6,1171.4 623.1,1172.7 626.8,1172.0 C630.6,1171.3 627.3,1168.7 632.5,1167.8 C637.6,1166.8 652.6,1167.1 657.7,1166.4 C662.9,1165.7 660.0,1163.8 663.2,1163.6 C666.5,1163.3 673.5,1165.2 677.3,1165.0 C681.1,1164.8 681.7,1162.5 685.8,1162.2 C689.9,1161.8 698.3,1162.0 702.0,1162.9 C705.7,1163.9 701.6,1166.7 707.8,1167.8 C714.0,1168.8 732.1,1169.2 739.2,1169.2 C746.3,1169.2 746.2,1167.6 750.4,1167.8 C754.5,1168.0 760.2,1169.4 763.9,1170.5 C767.6,1171.7 767.9,1174.1 772.7,1174.8 C777.5,1175.6 785.0,1173.7 792.4,1174.8 C799.9,1176.0 811.3,1179.4 817.3,1181.8 C823.3,1184.1 824.7,1186.8 828.4,1188.7 C832.2,1190.6 834.2,1190.7 839.8,1193.0 C845.5,1195.4 858.0,1200.7 862.2,1202.8 C866.5,1204.9 865.0,1204.1 865.3,1205.6 C865.6,1207.1 862.9,1209.6 864.1,1211.7 C865.3,1213.9 871.3,1216.4 872.5,1218.6 C873.6,1220.9 872.0,1223.1 871.0,1225.3 C870.1,1227.5 866.2,1229.2 866.6,1232.0 C867.1,1234.9 869.1,1240.1 873.6,1242.3 C878.2,1244.6 888.7,1244.2 893.8,1245.3 C898.9,1246.4 902.5,1247.9 904.0,1248.9 C905.4,1249.9 905.5,1249.4 902.7,1251.2 C900.0,1252.9 896.9,1253.5 887.4,1259.5 C878.0,1265.4 855.2,1281.6 846.0,1287.1 C836.9,1292.5 837.2,1291.5 832.4,1292.4 C827.6,1293.3 820.3,1291.2 817.2,1292.6 C814.2,1293.9 816.0,1298.9 814.0,1300.4 C812.1,1301.9 808.4,1301.7 805.4,1301.4 C802.4,1301.1 798.9,1299.8 796.0,1298.5 C793.0,1297.2 797.2,1294.4 787.9,1293.8 C778.6,1293.1 755.7,1294.9 740.1,1294.6 C724.5,1294.3 704.2,1293.1 694.3,1292.1 C684.5,1291.1 684.1,1290.4 680.9,1288.9 C677.8,1287.4 678.2,1284.7 675.4,1283.3 C672.6,1281.9 666.8,1281.8 664.1,1280.5 C661.4,1279.2 660.7,1277.4 659.3,1275.5 C657.9,1273.7 658.7,1271.0 655.8,1269.3 C652.8,1267.5 644.8,1266.6 641.5,1265.0 C638.3,1263.3 638.9,1261.3 636.1,1259.5 C633.4,1257.6 627.7,1255.7 624.9,1253.8 C622.0,1252.0 623.6,1251.3 619.3,1248.2 C615.0,1245.2 604.9,1238.2 599.2,1235.4 C593.6,1232.5 588.0,1232.9 585.4,1231.3 C582.8,1229.7 583.6,1227.8 583.6,1225.9 C583.5,1224.0 585.4,1221.4 584.9,1219.9 C584.4,1218.3 580.5,1218.9 580.8,1216.5 C581.0,1214.1 585.9,1208.8 586.4,1205.3 C586.8,1201.8 583.2,1197.9 583.5,1195.5 C583.9,1193.2 586.3,1193.3 588.5,1191.1 C590.8,1188.9 595.7,1184.8 597.3,1182.3 C598.9,1179.7 596.1,1177.5 598.2,1175.8 Z" style="stroke-width:0.9"/>
<ellipse class="l" cx="606.7" cy="1175.9" rx="6" ry="3.2"/><ellipse class="l" cx="606.7" cy="1176.5" rx="4" ry="2"/>
<ellipse class="l" cx="692.7" cy="1165.5" rx="6" ry="3.2"/><ellipse class="l" cx="692.7" cy="1166.1" rx="4" ry="2"/>
<ellipse class="l" cx="757.5" cy="1170.3" rx="6" ry="3.2"/><ellipse class="l" cx="757.5" cy="1170.9" rx="4" ry="2"/>
<ellipse class="l" cx="830.9" cy="1192.3" rx="6" ry="3.2"/><ellipse class="l" cx="830.9" cy="1192.9" rx="4" ry="2"/>
<ellipse class="l" cx="894.3" cy="1248.1" rx="6" ry="3.2"/><ellipse class="l" cx="894.3" cy="1248.7" rx="4" ry="2"/>
<ellipse class="l" cx="804.1" cy="1296.1" rx="6" ry="3.2"/><ellipse class="l" cx="804.1" cy="1296.7" rx="4" ry="2"/>
<ellipse class="l" cx="667.3" cy="1279.2" rx="6" ry="3.2"/><ellipse class="l" cx="667.3" cy="1279.8" rx="4" ry="2"/>
<ellipse class="l" cx="645.6" cy="1262.2" rx="6" ry="3.2"/><ellipse class="l" cx="645.6" cy="1262.8" rx="4" ry="2"/>
<ellipse class="l" cx="594.0" cy="1228.4" rx="6" ry="3.2"/><ellipse class="l" cx="594.0" cy="1229.0" rx="4" ry="2"/>
<path class="l" d="M668.7,1266 C678,1262 690,1268 694,1282.5 M671,1263.5 C682,1262 690,1270 692,1282"/>
<path class="w" d="M672,1231.5 L672,1247.6 A5.5,3 0 0 0 683,1247.6 L683,1231.5 Z"/><ellipse class="w" cx="677.5" cy="1231.5" rx="5.5" ry="3"/><ellipse class="l" cx="677.5" cy="1231.5" rx="2.6" ry="1.4"/>
<path class="l" d="M907.5,1248.9 L929.6,1248.9"/>
<!-- 80_bolts.py -->
<path class="w" d="M410.7,1500.3 L411.3,1503.3 L413.5,1506.3 L413.8,1510.3 Q423.8,1515.8 433.8,1510.3 L434.1,1506.3 L436.3,1503.3 L436.90000000000003,1500.3 Z"/><path class="l" d="M419.3,1507.3 L419.3,1512.8 M428.3,1507.3 L428.3,1512.8 M413.5,1506.3 Q423.8,1509.3 434.1,1506.3"/><ellipse class="w" cx="423.8" cy="1500.3" rx="13.1" ry="5.2"/><path class="w" d="M417.8,1456.3 L417.8,1500.3 A6,2.5 0 0 0 429.8,1500.3 L429.8,1456.3 Z"/><ellipse class="w" cx="423.8" cy="1456.3" rx="6" ry="3"/><path class="l" d="M417.8,1460.8 A6,2.3 0 0 0 429.8,1460.8 M417.8,1464.8 A6,2.3 0 0 0 429.8,1464.8 M417.8,1468.8 A6,2.3 0 0 0 429.8,1468.8 M417.8,1472.8 A6,2.3 0 0 0 429.8,1472.8 M417.8,1476.8 A6,2.3 0 0 0 429.8,1476.8 M417.8,1480.8 A6,2.3 0 0 0 429.8,1480.8 M417.8,1484.8 A6,2.3 0 0 0 429.8,1484.8 M417.8,1488.8 A6,2.3 0 0 0 429.8,1488.8 " style="stroke-width:1.05"/>
<path class="w" d="M463.2,1547.8 L463.8,1550.8 L466.0,1553.8 L466.3,1557.8 Q476.3,1563.3 486.3,1557.8 L486.6,1553.8 L488.8,1550.8 L489.40000000000003,1547.8 Z"/><path class="l" d="M471.8,1554.8 L471.8,1560.3 M480.8,1554.8 L480.8,1560.3 M466.0,1553.8 Q476.3,1556.8 486.6,1553.8"/><ellipse class="w" cx="476.3" cy="1547.8" rx="13.1" ry="5.2"/><path class="w" d="M470.3,1503.8 L470.3,1547.8 A6,2.5 0 0 0 482.3,1547.8 L482.3,1503.8 Z"/><ellipse class="w" cx="476.3" cy="1503.8" rx="6" ry="3"/><path class="l" d="M470.3,1508.3 A6,2.3 0 0 0 482.3,1508.3 M470.3,1512.3 A6,2.3 0 0 0 482.3,1512.3 M470.3,1516.3 A6,2.3 0 0 0 482.3,1516.3 M470.3,1520.3 A6,2.3 0 0 0 482.3,1520.3 M470.3,1524.3 A6,2.3 0 0 0 482.3,1524.3 M470.3,1528.3 A6,2.3 0 0 0 482.3,1528.3 M470.3,1532.3 A6,2.3 0 0 0 482.3,1532.3 M470.3,1536.3 A6,2.3 0 0 0 482.3,1536.3 " style="stroke-width:1.05"/>
<path class="w" d="M534.9,1562 L535.5,1565 L537.7,1568 L538,1572 Q548,1577.5 558,1572 L558.3,1568 L560.5,1565 L561.1,1562 Z"/><path class="l" d="M543.5,1569 L543.5,1574.5 M552.5,1569 L552.5,1574.5 M537.7,1568 Q548,1571 558.3,1568"/><ellipse class="w" cx="548" cy="1562" rx="13.1" ry="5.2"/><path class="w" d="M542,1518 L542,1562 A6,2.5 0 0 0 554,1562 L554,1518 Z"/><ellipse class="w" cx="548" cy="1518" rx="6" ry="3"/><path class="l" d="M542,1522.5 A6,2.3 0 0 0 554,1522.5 M542,1526.5 A6,2.3 0 0 0 554,1526.5 M542,1530.5 A6,2.3 0 0 0 554,1530.5 M542,1534.5 A6,2.3 0 0 0 554,1534.5 M542,1538.5 A6,2.3 0 0 0 554,1538.5 M542,1542.5 A6,2.3 0 0 0 554,1542.5 M542,1546.5 A6,2.3 0 0 0 554,1546.5 M542,1550.5 A6,2.3 0 0 0 554,1550.5 " style="stroke-width:1.05"/>
<path class="w" d="M495.7,1612.3 L496.3,1615.3 L498.5,1618.3 L498.8,1622.3 Q508.8,1627.8 518.8,1622.3 L519.1,1618.3 L521.3,1615.3 L521.9,1612.3 Z"/><path class="l" d="M504.3,1619.3 L504.3,1624.8 M513.3,1619.3 L513.3,1624.8 M498.5,1618.3 Q508.8,1621.3 519.1,1618.3"/><ellipse class="w" cx="508.8" cy="1612.3" rx="13.1" ry="5.2"/><path class="w" d="M502.8,1568.3 L502.8,1612.3 A6,2.5 0 0 0 514.8,1612.3 L514.8,1568.3 Z"/><ellipse class="w" cx="508.8" cy="1568.3" rx="6" ry="3"/><path class="l" d="M502.8,1572.8 A6,2.3 0 0 0 514.8,1572.8 M502.8,1576.8 A6,2.3 0 0 0 514.8,1576.8 M502.8,1580.8 A6,2.3 0 0 0 514.8,1580.8 M502.8,1584.8 A6,2.3 0 0 0 514.8,1584.8 M502.8,1588.8 A6,2.3 0 0 0 514.8,1588.8 M502.8,1592.8 A6,2.3 0 0 0 514.8,1592.8 M502.8,1596.8 A6,2.3 0 0 0 514.8,1596.8 M502.8,1600.8 A6,2.3 0 0 0 514.8,1600.8 " style="stroke-width:1.05"/>
<path class="w" d="M683.9,1560.7 L684.5,1563.7 L686.7,1566.7 L687,1570.7 Q697,1576.2 707,1570.7 L707.3,1566.7 L709.5,1563.7 L710.1,1560.7 Z"/><path class="l" d="M692.5,1567.7 L692.5,1573.2 M701.5,1567.7 L701.5,1573.2 M686.7,1566.7 Q697,1569.7 707.3,1566.7"/><ellipse class="w" cx="697" cy="1560.7" rx="13.1" ry="5.2"/><path class="w" d="M691,1516.7 L691,1560.7 A6,2.5 0 0 0 703,1560.7 L703,1516.7 Z"/><ellipse class="w" cx="697" cy="1516.7" rx="6" ry="3"/><path class="l" d="M691,1521.2 A6,2.3 0 0 0 703,1521.2 M691,1525.2 A6,2.3 0 0 0 703,1525.2 M691,1529.2 A6,2.3 0 0 0 703,1529.2 M691,1533.2 A6,2.3 0 0 0 703,1533.2 M691,1537.2 A6,2.3 0 0 0 703,1537.2 M691,1541.2 A6,2.3 0 0 0 703,1541.2 M691,1545.2 A6,2.3 0 0 0 703,1545.2 M691,1549.2 A6,2.3 0 0 0 703,1549.2 " style="stroke-width:1.05"/>
<path class="w" d="M726.5,1516.9 L727.1,1519.9 L729.3000000000001,1522.9 L729.6,1526.9 Q739.6,1532.4 749.6,1526.9 L749.9,1522.9 L752.1,1519.9 L752.7,1516.9 Z"/><path class="l" d="M735.1,1523.9 L735.1,1529.4 M744.1,1523.9 L744.1,1529.4 M729.3000000000001,1522.9 Q739.6,1525.9 749.9,1522.9"/><ellipse class="w" cx="739.6" cy="1516.9" rx="13.1" ry="5.2"/><path class="w" d="M733.6,1472.9 L733.6,1516.9 A6,2.5 0 0 0 745.6,1516.9 L745.6,1472.9 Z"/><ellipse class="w" cx="739.6" cy="1472.9" rx="6" ry="3"/><path class="l" d="M733.6,1477.4 A6,2.3 0 0 0 745.6,1477.4 M733.6,1481.4 A6,2.3 0 0 0 745.6,1481.4 M733.6,1485.4 A6,2.3 0 0 0 745.6,1485.4 M733.6,1489.4 A6,2.3 0 0 0 745.6,1489.4 M733.6,1493.4 A6,2.3 0 0 0 745.6,1493.4 M733.6,1497.4 A6,2.3 0 0 0 745.6,1497.4 M733.6,1501.4 A6,2.3 0 0 0 745.6,1501.4 M733.6,1505.4 A6,2.3 0 0 0 745.6,1505.4 " style="stroke-width:1.05"/>
<path class="w" d="M718.0,1596.8 L718.6,1599.8 L720.8000000000001,1602.8 L721.1,1606.8 Q731.1,1612.3 741.1,1606.8 L741.4,1602.8 L743.6,1599.8 L744.2,1596.8 Z"/><path class="l" d="M726.6,1603.8 L726.6,1609.3 M735.6,1603.8 L735.6,1609.3 M720.8000000000001,1602.8 Q731.1,1605.8 741.4,1602.8"/><ellipse class="w" cx="731.1" cy="1596.8" rx="13.1" ry="5.2"/><path class="w" d="M725.1,1552.8 L725.1,1596.8 A6,2.5 0 0 0 737.1,1596.8 L737.1,1552.8 Z"/><ellipse class="w" cx="731.1" cy="1552.8" rx="6" ry="3"/><path class="l" d="M725.1,1557.3 A6,2.3 0 0 0 737.1,1557.3 M725.1,1561.3 A6,2.3 0 0 0 737.1,1561.3 M725.1,1565.3 A6,2.3 0 0 0 737.1,1565.3 M725.1,1569.3 A6,2.3 0 0 0 737.1,1569.3 M725.1,1573.3 A6,2.3 0 0 0 737.1,1573.3 M725.1,1577.3 A6,2.3 0 0 0 737.1,1577.3 M725.1,1581.3 A6,2.3 0 0 0 737.1,1581.3 M725.1,1585.3 A6,2.3 0 0 0 737.1,1585.3 " style="stroke-width:1.05"/>
<path class="l" d="M397.4,1480.9 L417.5,1480.9"/>
<path class="l" d="M737,1584.7 L756.6,1584.7"/>
<path class="w" d="M588,1548.3 L588,1557 A30.9,14.8 0 0 0 649.8,1557 L649.8,1548.3 Z"/>
<ellipse class="w" cx="618.9" cy="1548.3" rx="30.9" ry="14.8"/>
<ellipse class="l" cx="618.9" cy="1548.8" rx="26" ry="11.8"/>
<ellipse class="l" cx="618.9" cy="1549.5" rx="21.5" ry="9.5"/>
<ellipse class="l" cx="618.9" cy="1551" rx="16.8" ry="7.5"/>
<path class="l" d="M590,1553 A29,12 0 0 0 648,1553" style="stroke-width:0.9"/>
<path class="l" d="M620.2,1570 L620.2,1583.8"/>
<!-- 85_governor.py -->
<ellipse class="w" cx="834.9" cy="1330.6" rx="9.7" ry="5.6"/>
<path class="w" d="M829,1317.2 L829,1329.5 A5.3,2 0 0 0 839.6,1329.5 L839.6,1317.2 Z"/>
<ellipse class="w" cx="834.3" cy="1317.2" rx="5.3" ry="2.2"/>
<path class="l" d="M844,1328.2 L857.2,1318.2 L879.7,1318.2"/>
<path class="w" d="M796.3,1330.7 L813.9,1330.7 L815.8,1340.1000000000001 L813.3,1342.7 L812.3,1352.7 L809.3,1352.7 L809.3,1344.7 L802.3,1344.7 L801.8,1352.7 L799.3,1352.7 L798.8,1339.7 Z"/><path class="l" d="M800.3,1330.7 L802.3,1339.7 M809.3,1331.7 L811.8,1339.7"/><circle class="w" cx="800.6999999999999" cy="1353.9" r="2"/><circle class="w" cx="812.0" cy="1353.3" r="2"/>
<path class="l" d="M817.5,1350.5 L820,1347.5"/>
<path class="w" d="M848.5,1333.8 L868.5,1333.2 L869.1,1341 L866,1344 L865,1356 L862,1356 L861.5,1347 L855,1347 L854,1356 L851,1356 L850.5,1342 L848,1341 Z"/>
<path class="l" d="M850.5,1334 L848,1343 M857,1334 L852.5,1344"/>
<circle class="w" cx="851.5" cy="1357.2" r="2"/><circle class="w" cx="862.8" cy="1357.2" r="2"/>
<path class="l" d="M846,1353 L849.5,1356.5 M868.1,1345 L881.8,1345"/>
<path class="w" d="M772.5,1352.6 L796.3,1352.9 L796.3,1357.4 L772.5,1357.7 A1.6,2.5 0 0 1 772.5,1352.6 Z"/>
<path class="w" d="M817.6,1362 L840.5,1362.6 A1.5,2.4 0 0 1 840.5,1367.2 L817.6,1366.8 A1.5,2.4 0 0 1 817.6,1362 Z"/>
<path class="l" d="M841.5,1364.6 L859.7,1370.8 L881.6,1370.8"/>
<path class="w" d="M797.0,1395.9 L797.0,1398.9 A31.7,26 0 0 0 860.4000000000001,1398.9 L860.4000000000001,1395.9 Z"/>
<ellipse class="w" cx="828.7" cy="1395.9" rx="31.7" ry="26"/>
<path d="M860.4,1395.9 L860.3,1400.2 L850.1,1401.9 L850.7,1400.4 Z M859.7,1403.3 L859.0,1405.6 L848.1,1405.3 L849.0,1403.9 Z M857.7,1408.5 L856.4,1410.6 L845.2,1408.3 L846.5,1407.1 Z M854.3,1413.2 L852.6,1415.0 L841.6,1410.7 L843.2,1409.8 Z M849.9,1417.2 L847.7,1418.7 L837.4,1412.5 L839.2,1411.8 Z M844.6,1420.4 L842.0,1421.5 L832.8,1413.6 L834.8,1413.2 Z M838.5,1422.6 L835.7,1423.2 L828.1,1413.9 L830.2,1413.9 Z M832.0,1423.8 L829.2,1423.9 L823.4,1413.4 L825.4,1413.7 Z M825.4,1423.8 L822.6,1423.4 L818.9,1412.1 L820.8,1412.8 Z M818.9,1422.6 L816.2,1421.8 L814.9,1410.2 L816.6,1411.1 Z M812.9,1420.4 L810.4,1419.2 L811.4,1407.6 L812.8,1408.8 Z M807.5,1417.2 L805.5,1415.6 L808.8,1404.5 L809.8,1405.9 Z M803.1,1413.2 L801.5,1411.2 L806.9,1401.0 L807.6,1402.5 Z M799.7,1408.5 L798.7,1406.3 L806.1,1397.3 L806.3,1398.9 Z M797.7,1403.3 L797.2,1401.0 L806.2,1393.6 L806.0,1395.2 Z M797.0,1397.9 L797.1,1393.6 L807.3,1389.9 L806.7,1391.4 Z M797.7,1390.5 L798.4,1388.2 L809.3,1386.5 L808.4,1387.9 Z M799.7,1385.3 L801.0,1383.2 L812.2,1383.5 L810.9,1384.7 Z M803.1,1380.6 L804.8,1378.8 L815.8,1381.1 L814.2,1382.0 Z M807.5,1376.6 L809.7,1375.1 L820.0,1379.3 L818.2,1380.0 Z M812.9,1373.4 L815.4,1372.3 L824.6,1378.2 L822.6,1378.6 Z M818.9,1371.2 L821.7,1370.6 L829.3,1377.9 L827.2,1377.9 Z M825.4,1370.0 L828.2,1369.9 L834.0,1378.4 L832.0,1378.1 Z M832.0,1370.0 L834.8,1370.4 L838.5,1379.7 L836.6,1379.0 Z M838.5,1371.2 L841.2,1372.0 L842.5,1381.6 L840.8,1380.7 Z M844.6,1373.4 L847.0,1374.6 L846.0,1384.2 L844.6,1383.0 Z M849.9,1376.6 L851.9,1378.2 L848.6,1387.3 L847.6,1385.9 Z M854.3,1380.6 L855.9,1382.6 L850.5,1390.8 L849.8,1389.3 Z M857.7,1385.3 L858.7,1387.5 L851.3,1394.5 L851.1,1392.9 Z M859.7,1390.5 L860.2,1392.8 L851.2,1398.2 L851.4,1396.6 Z " fill="#3a3a3a"/>
<path class="l" d="M860.2,1400.6 L850.0,1402.2 M858.8,1405.9 L847.9,1405.5 M856.2,1410.9 L844.9,1408.5 M852.3,1415.3 L841.3,1410.9 M847.3,1418.9 L837.1,1412.6 M841.6,1421.7 L832.5,1413.6 M835.3,1423.3 L827.8,1413.9 M828.7,1423.9 L823.1,1413.3 M822.1,1423.3 L818.6,1412.0 M815.8,1421.7 L814.6,1410.0 M810.1,1418.9 L811.2,1407.4 M805.1,1415.3 L808.6,1404.3 M801.2,1410.9 L806.8,1400.8 M798.6,1405.9 L806.0,1397.1 M797.2,1400.6 L806.2,1393.3 M797.2,1393.2 L807.4,1389.6 M798.6,1387.9 L809.5,1386.3 M801.2,1382.9 L812.5,1383.3 M805.1,1378.5 L816.1,1380.9 M810.1,1374.9 L820.3,1379.2 M815.8,1372.1 L824.9,1378.2 M822.1,1370.5 L829.6,1377.9 M828.7,1369.9 L834.3,1378.5 M835.3,1370.5 L838.8,1379.8 M841.6,1372.1 L842.8,1381.8 M847.3,1374.9 L846.2,1384.4 M852.3,1378.5 L848.8,1387.5 M856.2,1382.9 L850.6,1391.0 M858.8,1387.9 L851.4,1394.7 M860.2,1393.2 L851.2,1398.5 " style="stroke-width:0.9"/>
<ellipse class="l" cx="828.7" cy="1395.9" rx="22.7" ry="18" style="stroke-width:1.2"/>
<path class="w" d="M810.7,1388.9 L822.7,1388.9 L822.7,1382.9 L834.7,1382.9 L834.7,1388.9 L846.7,1388.9 L846.7,1399.9 L834.7,1399.9 L834.7,1408.9 L822.7,1408.9 L822.7,1399.9 L810.7,1399.9 Z"/>
<path d="M812.7,1390.9 L820.7,1390.9 L820.7,1394.9 L812.7,1394.9 Z M836.7,1390.9 L844.7,1390.9 L844.7,1394.9 L836.7,1394.9 Z" fill="#444"/>
<ellipse class="w" cx="830.2" cy="1388.9" rx="9.5" ry="6.5"/><ellipse class="w" cx="830.2" cy="1387.9" rx="5.5" ry="3.5"/>
<path class="l" d="M860.3,1402.8 L881,1402.8"/>
<path class="w" d="M825.2,1422.2 L825.2,1452 A4,1.5 0 0 0 833.3,1452 L833.3,1422.2 Z"/>
<path class="l" d="M825.2,1436.7 A4,1.3 0 0 0 833.3,1436.7"/><circle class="l" cx="831.3" cy="1449.8" r="1.4"/>
<path class="l" d="M833.3,1436.7 L881.6,1436.7 M831.5,1452.3 L858.4,1464.2 L881.6,1464.2"/>
<path class="w" d="M859,1487 L862,1486 L865.5,1496 L862,1497 Z"/>
<path class="l" d="M859.5,1489 L863.5,1488 M860.3,1491 L864.3,1490 M861,1493 L865,1492" style="stroke-width:1.2"/>
<path class="l" d="M864,1486.2 L884.7,1486.2"/>
<path class="w" d="M828.3,1500 L852,1500 L852,1507.5 L828.3,1507.5 L828.3,1505 L836,1505 L836,1502.5 L828.3,1502.5 Z"/>
<path class="w" d="M852.1,1497 L865.3,1496.2 L865.3,1506.9 L852.1,1506.9 Z"/>
<ellipse class="l" cx="858.4" cy="1501.9" rx="3" ry="2"/>
<path class="l" d="M852.8,1506.9 L852.8,1515.3 L887.2,1515.3"/>
<!-- 90_crankcase.py -->
<path class="l" d="M429.4,1392.6 C429.6,1395.7 428.9,1404.8 430.5,1411.4 C432.0,1418.1 435.9,1426.8 438.9,1432.4 C441.8,1438.0 441.0,1439.0 448.3,1444.9 C455.6,1450.9 470.1,1461.2 482.9,1468.0 C495.6,1474.8 510.8,1480.9 524.8,1485.8 C538.7,1490.7 552.7,1494.5 566.7,1497.3 C580.6,1500.1 596.3,1501.2 608.6,1502.6 C620.8,1504.0 633.4,1505.7 640.0,1505.7 C646.6,1505.7 646.6,1504.7 648.4,1502.6 C650.1,1500.5 650.8,1495.4 650.5,1493.1 C650.1,1490.9 647.0,1489.6 646.3,1488.9"/>
<path class="l" d="M449.3,1446.0 C454.9,1449.0 470.3,1457.7 482.9,1463.8 C495.4,1469.9 510.8,1477.6 524.8,1482.7 C538.7,1487.7 552.7,1491.4 566.7,1494.2 C580.6,1497.0 596.0,1498.2 608.6,1499.4 C621.1,1500.6 635.4,1502.4 642.1,1501.5 C648.7,1500.6 647.3,1495.4 648.4,1494.2"/>
<path class="l" d="M448.3,1442.9 C450.6,1443.6 452.6,1442.5 461.9,1447.0 C471.2,1451.6 489.8,1464.0 503.8,1470.1 C517.8,1476.2 531.7,1480.2 545.7,1483.7 C559.7,1487.2 573.6,1490.0 587.6,1491.0 C601.6,1492.1 619.7,1490.3 629.5,1490.0 C639.3,1489.6 643.5,1489.1 646.3,1488.9"/>
<path class="l" d="M432.6,1396.8 C433.1,1399.9 434.3,1410.4 435.7,1415.6 C437.1,1420.9 439.2,1424.7 441.0,1428.2 C442.7,1431.7 444.8,1434.1 446.2,1436.6 C447.6,1439.0 448.8,1441.8 449.3,1442.9"/>
<path class="l" d="M429.4,1392.6 C429.8,1391.5 430.3,1388.4 431.5,1386.3 C432.7,1384.2 435.9,1381.0 436.8,1380.0"/>
<path class="l" d="M540.5,1411.4 C540.1,1412.6 537.9,1416.6 538.4,1418.8 C538.9,1420.9 541.3,1423.5 543.6,1424.4 C545.9,1425.4 549.7,1425.4 552.0,1424.4 C554.3,1423.5 556.4,1419.7 557.2,1418.8"/>
<path class="l" d="M559.3,1429.2 C559.3,1430.8 558.5,1436.0 559.3,1438.7 C560.2,1441.3 562.5,1444.1 564.6,1444.9 C566.7,1445.8 570.0,1445.1 571.9,1443.9 C573.8,1442.7 575.4,1438.7 576.1,1437.6"/>
<path class="l" d="M493.3,1380.0 C493.3,1380.5 492.3,1382.4 493.3,1383.1 C494.4,1383.9 497.5,1384.6 499.6,1384.6 C501.7,1384.6 504.9,1383.4 505.9,1383.1"/>
<path class="l" d="M589.7,1442.9 L589.7,1492.1"/>
<path class="l" d="M619.0,1451.2 L623.2,1488.9"/>
<path class="l" d="M627.4,1449.1 L627.4,1486.9"/>
<path class="l" d="M648.4,1449.1 L648.4,1484.8"/>
<path class="l" d="M665.1,1452.3 L665.1,1480.6"/>
<path class="l" d="M680.0,1453.3 L680.0,1478.5"/>
<path class="l" d="M589.7,1492.1 L625.3,1488.9"/>
<path class="l" d="M616.9,1451.2 C617.6,1452.6 619.9,1455.8 621.1,1459.6 C622.4,1463.5 623.8,1469.6 624.3,1474.3 C624.8,1479.0 624.3,1485.6 624.3,1487.9"/>
<path class="l" d="M648.4,1451.2 L680.0,1455.4"/>
<path class="l" d="M648.4,1461.7 L680.0,1465.9"/>
<path class="l" d="M618.7,1451.2 L618.7,1488.2"/>
<path class="l" d="M625.1,1449.5 L625.1,1488.2"/>
<path class="l" d="M646.1,1449.5 L646.1,1480.2"/>
<path class="l" d="M663.8,1452.8 L663.8,1483.4"/>
<path class="l" d="M671.9,1451.2 L671.9,1481.8"/>
<path class="l" d="M704.1,1459.2 L704.1,1476.9"/>
<path class="l" d="M717.0,1447.9 L717.0,1475.3"/>
<path class="l" d="M741.2,1407.6 C741.0,1410.9 741.4,1420.8 740.4,1427.0 C739.3,1433.2 737.8,1438.5 734.7,1444.7 C731.6,1450.9 726.1,1458.7 721.8,1464.1 C717.5,1469.4 716.4,1474.4 708.9,1476.9 C701.4,1479.5 686.9,1478.8 676.7,1479.4 C666.5,1479.9 652.5,1480.0 647.7,1480.2"/>
<path class="l" d="M754.1,1402.8 C754.3,1404.4 756.2,1409.0 755.7,1412.5 C755.1,1416.0 753.2,1421.6 750.8,1423.8 C748.4,1425.9 742.8,1425.1 741.2,1425.4"/>
<ellipse class="l" cx="548.9" cy="1301.3" rx="5" ry="2.6"/><ellipse class="l" cx="574.3" cy="1302" rx="6" ry="3.3"/>
<path class="l" d="M586.4,1307.7 C587.0,1306.9 587.5,1304.0 589.7,1302.9 C591.8,1301.8 596.1,1301.0 599.3,1301.0 C602.6,1301.0 607.1,1301.8 609.0,1302.9 C610.9,1304.0 610.4,1306.9 610.6,1307.7"/>
<path class="l" d="M545.3,1308.5 L545.3,1353.7"/>
<path class="l" d="M575.3,1308.5 L574.4,1351.4"/>
<path class="l" d="M579.1,1308.5 L579.1,1351.4"/>
<path class="l" d="M657.0,1317.6 L658.1,1362.7"/>
<path class="l" d="M661.5,1319.8 L661.5,1362.7"/>
<path class="l" d="M528.4,1354.8 C531.4,1354.2 540.4,1352.2 546.4,1351.4 C552.4,1350.7 561.5,1350.5 564.5,1350.3"/>
<path class="l" d="M623.1,1367.2 C627.3,1367.4 640.0,1367.8 647.9,1368.3 C655.8,1368.9 666.7,1370.2 670.5,1370.6"/>
<path class="l" d="M563.3,1339.0 L591.5,1343.5 L625.4,1348.0 L661.5,1352.5"/>
<path class="l" d="M563.3,1346.9 L591.5,1351.4 L625.4,1355.9 L661.5,1360.4"/>
<path class="l" d="M562.2,1340.1 L564.5,1351.4"/>
<path class="w" d="M606.2,1331.7 L606.2,1348 C615,1352 630,1352 636.7,1348 L636.7,1331.7 Z"/>
<ellipse class="w" cx="621.5" cy="1331.7" rx="15.25" ry="6.2"/>
<path class="l" d="M588.1,1324.3 L589.3,1349.2"/>
<path class="l" d="M592.7,1326.6 L593.8,1349.2"/>
<path class="l" d="M598.3,1328.8 L598.3,1349.2"/>
<path class="l" d="M588.1,1324.3 L598.3,1328.8"/>
<path class="l" d="M503.5,1335.6 C505.0,1334.5 509.2,1330.3 512.6,1328.8 C515.9,1327.3 521.6,1326.0 523.8,1326.6 C526.1,1327.2 526.9,1330.3 526.1,1332.2 C525.3,1334.1 520.8,1334.3 519.3,1337.9 C517.8,1341.4 517.1,1348.8 517.1,1353.7 C517.1,1358.6 519.0,1364.9 519.3,1367.2"/>
<path class="l" d="M506.9,1337.9 C508.2,1337.3 512.4,1335.2 514.8,1334.5 C517.3,1333.7 520.5,1333.5 521.6,1333.4"/>
<path class="l" d="M503.5,1335.6 L503.5,1369.5"/>
<path class="l" d="M506.9,1337.9 L506.2,1369.5"/>
<path class="l" d="M519.3,1346.9 C521.2,1349.5 526.1,1357.0 530.6,1362.7 C535.1,1368.3 543.8,1377.7 546.4,1380.7"/>
<path class="l" d="M521.6,1344.6 C523.7,1347.5 529.4,1355.8 534.0,1361.6 C538.6,1367.3 546.6,1376.0 549.1,1378.9"/>
<path class="l" d="M539.6,1394.3 L562.2,1371.7"/>
<path class="l" d="M542.3,1396.1 L563.3,1375.1"/>
<path class="w" d="M562.2,1365 L562.2,1425 L623.1,1439.4 L618.6,1365 Z"/>
<ellipse class="w" cx="590.4" cy="1365" rx="28.2" ry="16.9"/>
<ellipse class="l" cx="592.1" cy="1364.4" rx="20.9" ry="13"/>
<path class="l" d="M576.9,1372.8 L579.1,1380.7"/>
<path class="l" d="M580.3,1371.7 L582.5,1380.3"/>
<path class="l" d="M594.9,1351.4 L596.0,1360.4"/>
<path class="l" d="M598.3,1351.4 L599.4,1359.3"/>
<ellipse class="l" cx="579.2" cy="1405.6" rx="5.6" ry="15.8"/>
<ellipse class="l" cx="580.5" cy="1407.1" rx="3.3999999999999995" ry="12.3"/>
<path class="l" d="M577.2,1395.6 L581.2,1417.6 M579.2,1393.6 L582.7,1415.6"/>
<ellipse class="l" cx="599.4" cy="1413.5" rx="5.6" ry="17"/>
<ellipse class="l" cx="600.6999999999999" cy="1415.0" rx="3.3999999999999995" ry="13.5"/>
<path class="l" d="M597.4,1403.5 L601.4,1425.5 M599.4,1401.5 L602.9,1423.5"/>
<path class="l" d="M611.8,1401.0 L625.4,1401.0 L625.4,1439.4"/>
<path class="l" d="M615.2,1403.3 L615.2,1439.4"/>
<path class="l" d="M668.2,1340.1 L670.5,1398.8 L690.8,1401.0 L689.7,1343.5 L668.2,1340.1"/>
<path class="l" d="M671.6,1367.2 L688.6,1369.5"/>
<path class="l" d="M671.6,1374.0 L688.6,1376.2"/>
<path class="l" d="M632.1,1394.3 C634.8,1390.9 641.2,1380.7 647.9,1374.0 C654.7,1367.2 668.6,1357.0 672.8,1353.7"/>
<path class="l" d="M634.4,1395.4 C637.4,1392.0 645.9,1381.5 652.5,1375.1 C659.0,1368.7 670.3,1360.1 673.9,1357.0"/>
<path class="l" d="M632.1,1394.3 L670.5,1380.7"/>
<path class="w" d="M627.6,1405 L627.6,1439.4 L652.5,1439.4 L652.5,1405 Z"/>
<ellipse class="w" cx="640" cy="1405" rx="12.45" ry="7.3"/>
<ellipse class="l" cx="640.3" cy="1404.6" rx="9" ry="5"/>
<path class="w" d="M659.2,1420.8 L659.2,1439.4 L678.4,1439.4 L678.4,1420.8 Z"/>
<ellipse class="w" cx="668.8" cy="1420.8" rx="9.6" ry="5.1"/>
<ellipse class="l" cx="668.8" cy="1420.5" rx="6.4" ry="3.3"/>
<path class="l" d="M697.6,1389.8 C699.5,1391.6 706.2,1396.5 708.9,1401.0 C711.5,1405.6 713.2,1412.0 713.4,1416.8 C713.6,1421.7 710.6,1428.1 710.0,1430.4"/>
<path class="l" d="M701.0,1392.0 C702.8,1393.9 709.8,1399.0 712.2,1403.3 C714.7,1407.6 715.4,1413.5 715.6,1418.0 C715.8,1422.5 713.8,1428.3 713.4,1430.4"/>
<path class="l" d="M693.1,1392.0 C694.6,1395.4 700.6,1405.9 702.1,1412.3 C703.6,1418.7 702.1,1427.4 702.1,1430.4"/>
<path class="l" d="M498.0,1310.6 C501.6,1308.3 508.7,1307.3 516.4,1306.0 C524.0,1304.7 532.7,1302.7 543.9,1303.0 C555.1,1303.2 572.0,1306.3 583.7,1307.6 C595.4,1308.8 608.2,1310.9 614.3,1310.6 C620.5,1310.4 616.9,1306.3 620.5,1306.0 C624.0,1305.8 629.6,1307.8 635.8,1309.1 C641.9,1310.4 651.6,1311.4 657.2,1313.7 C662.8,1316.0 665.9,1320.8 669.4,1322.9 C673.0,1324.9 674.5,1324.1 678.6,1325.9 C682.7,1327.7 690.4,1331.0 693.9,1333.6 C697.5,1336.1 696.0,1336.9 700.1,1341.2 C704.1,1345.6 713.3,1354.0 718.4,1359.6 C723.5,1365.2 726.6,1370.6 730.7,1374.9 C734.8,1379.3 738.6,1383.1 742.9,1385.6 C747.3,1388.2 754.2,1388.2 756.7,1390.2 C759.3,1392.3 760.0,1394.8 758.2,1397.9 C756.5,1400.9 751.6,1402.7 746.0,1408.6 C740.4,1414.5 731.2,1425.9 724.6,1433.1 C717.9,1440.2 711.8,1448.7 706.2,1451.5 C700.6,1454.3 698.5,1451.5 690.9,1449.9 C683.2,1448.4 673.0,1444.6 660.3,1442.3 C647.5,1440.0 627.6,1437.7 614.3,1436.2 C601.1,1434.6 589.3,1434.1 580.6,1433.1 C572.0,1432.1 565.9,1431.1 562.3,1430.0 C558.7,1429.0 562.3,1429.5 559.2,1427.0 C556.2,1424.4 547.5,1418.3 543.9,1414.7 C540.3,1411.1 542.4,1409.1 537.8,1405.5 C533.2,1402.0 523.0,1397.4 516.4,1393.3 C509.7,1389.2 502.1,1384.6 498.0,1381.0 C493.9,1377.5 492.4,1374.9 491.9,1371.9 C491.3,1368.8 494.9,1367.8 494.9,1362.7 C494.9,1357.6 491.9,1348.4 491.9,1341.2 C491.9,1334.1 493.9,1324.9 494.9,1319.8 C495.9,1314.7 494.4,1312.9 498.0,1310.6 Z" style="stroke-width:1.25"/>
<path class="l" d="M507.2,1322.9 C510.7,1321.1 509.7,1316.5 522.5,1315.2 C535.2,1313.9 561.3,1314.2 583.7,1315.2 C606.2,1316.2 642.9,1318.5 657.2,1321.3 C671.5,1324.1 663.3,1328.7 669.4,1332.1 C675.6,1335.4 686.8,1336.6 693.9,1341.2 C701.1,1345.8 707.2,1353.5 712.3,1359.6 C717.4,1365.7 718.9,1372.4 724.6,1378.0 C730.2,1383.6 743.4,1389.2 746.0,1393.3 C748.5,1397.4 744.5,1397.4 739.9,1402.5 C735.3,1407.6 724.6,1417.3 718.4,1423.9 C712.3,1430.5 708.7,1439.7 703.1,1442.3 C697.5,1444.8 699.6,1441.8 684.8,1439.2 C670.0,1436.7 633.2,1429.5 614.3,1427.0 C595.4,1424.4 582.7,1428.0 571.5,1423.9 C560.2,1419.8 556.2,1409.1 547.0,1402.5 C537.8,1395.8 524.0,1389.7 516.4,1384.1 C508.7,1378.5 503.6,1378.5 501.0,1368.8 C498.5,1359.1 500.0,1333.6 501.0,1325.9 C502.1,1318.3 503.6,1324.7 507.2,1322.9 Z"/>
<path class="l" d="M508.4,1325.1 C511.9,1323.3 510.9,1318.7 523.7,1317.4 C536.4,1316.1 562.5,1316.4 584.9,1317.4 C607.4,1318.4 644.1,1320.7 658.4,1323.5 C672.7,1326.3 664.5,1330.9 670.6,1334.3 C676.8,1337.6 688.0,1338.8 695.1,1343.4 C702.3,1348.0 708.4,1355.7 713.5,1361.8 C718.6,1367.9 720.1,1374.6 725.8,1380.2 C731.4,1385.8 744.6,1391.4 747.2,1395.5 C749.7,1399.6 745.7,1399.6 741.1,1404.7 C736.5,1409.8 725.8,1419.5 719.6,1426.1 C713.5,1432.7 709.9,1441.9 704.3,1444.5 C698.7,1447.0 700.8,1444.0 686.0,1441.4 C671.2,1438.9 634.4,1431.7 615.5,1429.2 C596.6,1426.6 583.9,1430.2 572.7,1426.1 C561.4,1422.0 557.4,1411.3 548.2,1404.7 C539.0,1398.0 525.2,1391.9 517.6,1386.3 C509.9,1380.7 504.8,1380.7 502.2,1371.0 C499.7,1361.3 501.2,1335.8 502.2,1328.1 C503.3,1320.5 504.8,1326.9 508.4,1325.1 Z" style="stroke-width:0.9"/>
<path class="l" d="M725.1,1435.6 C722.0,1438.7 712.3,1451.2 706.7,1454.0 C701.1,1456.8 699.0,1454.0 691.4,1452.4 C683.7,1450.9 673.5,1447.1 660.8,1444.8 C648.0,1442.5 628.1,1440.2 614.8,1438.7 C601.6,1437.1 589.8,1436.6 581.1,1435.6 C572.5,1434.6 566.4,1433.6 562.8,1432.5 C559.2,1431.5 562.8,1432.0 559.7,1429.5 C556.7,1426.9 548.0,1420.8 544.4,1417.2 C540.8,1413.6 542.9,1411.6 538.3,1408.0 C533.7,1404.5 523.5,1399.9 516.9,1395.8 C510.2,1391.7 501.5,1385.6 498.5,1383.5" style="stroke-width:0.9"/>
<ellipse class="l" cx="507.2" cy="1313" rx="6.3" ry="3.6"/>
<ellipse class="l" cx="623.5" cy="1309" rx="6.3" ry="3.6"/>
<ellipse class="l" cx="686.3" cy="1330.5" rx="6.3" ry="3.6"/>
<ellipse class="l" cx="749" cy="1390.2" rx="6.3" ry="3.6"/>
<ellipse class="l" cx="684.8" cy="1446.9" rx="6.3" ry="3.6"/>
<ellipse class="l" cx="569.9" cy="1428.5" rx="6.3" ry="3.6"/>
<ellipse class="l" cx="549.4" cy="1408.6" rx="6.3" ry="3.6"/>
<ellipse class="l" cx="504.1" cy="1371.9" rx="6.3" ry="3.6"/>
<path class="l" d="M696.0,1341.6 C697.1,1341.3 699.5,1340.0 702.5,1340.0 C705.4,1340.0 710.8,1340.2 713.8,1341.6 C716.7,1342.9 719.1,1345.3 720.2,1348.0 C721.3,1350.7 721.3,1354.7 720.2,1357.7 C719.1,1360.6 714.8,1364.4 713.8,1365.7"/>
<path class="l" d="M720.2,1367.4 C721.0,1368.4 723.2,1371.7 725.0,1373.8 C726.9,1376.0 730.4,1379.2 731.5,1380.2"/>
<path class="w" d="M444.2,1312.6 L441,1362.5 L449,1369 L495.7,1336.7 L486,1333 L486,1312.6 Z"/>
<ellipse class="w" cx="465.1" cy="1312.2" rx="20.9" ry="12.4"/>
<ellipse class="l" cx="465.1" cy="1312.8" rx="17.3" ry="9.7"/>
<path class="l" d="M452,1314 C458,1309 468,1309 474,1313 M455,1318 C462,1314 470,1315 476,1318"/>
<path class="l" d="M447.4,1367.4 L494.1,1343.2"/>
<path class="l" d="M450.6,1370.6 L492.5,1348.0"/>
<path class="l" d="M475.6,1336.7 L475.6,1349.6 L490.9,1343.2"/>
<path class="l" d="M490.9,1325.5 L495.7,1322.2"/>
<path class="l" d="M441.0,1362.5 C440.1,1364.4 437.7,1369.8 436.1,1373.8 C434.5,1377.8 432.5,1382.1 431.3,1386.7 C430.1,1391.3 429.3,1398.8 428.9,1401.2"/>
<path class="l" d="M436.1,1365.7 C436.3,1361.2 436.1,1345.6 436.9,1338.3 C437.7,1331.1 440.3,1324.9 441.0,1322.2"/>
<path class="w" d="M432,1383.5 L432,1395 C438,1402 450,1402 455.5,1395 L455.5,1383.5 Z"/>
<ellipse class="w" cx="443.7" cy="1383.5" rx="11.7" ry="7.3"/>
<path class="w" d="M447.4,1421.3 L447.8,1442 C452,1447 470,1447 476,1440 C480,1434 481.5,1428 481.2,1421.3 Z"/>
<ellipse class="w" cx="461.9" cy="1421.3" rx="14.5" ry="7.8"/>
<ellipse class="l" cx="461.5" cy="1420.8" rx="7" ry="3.6"/>
<path class="l" d="M474.8,1415.7 C475.9,1417.0 480.3,1420.5 481.2,1423.8 C482.2,1427.0 482.6,1431.3 480.4,1435.0 C478.3,1438.8 470.4,1444.4 468.3,1446.3"/>
<path class="l" d="M471.6,1418.9 C472.5,1420.0 476.4,1422.7 477.2,1425.4 C478.0,1428.1 478.4,1431.7 476.4,1435.0 C474.4,1438.4 467.0,1443.8 465.1,1445.5"/>
<path class="l" d="M398.6,1405.7 L418.9,1405.7"/>
<g>
<text transform="translate(618.29,223.02) scale(0.2537,0.2761)">479780</text>
<text transform="translate(644.02,296.94) scale(0.2391,0.2620)">479775</text>
<text transform="translate(312.03,373.93) scale(0.2371,0.2662)">479714</text>
<text transform="translate(757.82,418.03) scale(0.2404,0.2676)">479776</text>
<text transform="translate(228.00,589.83) scale(0.2517,0.2746)">479715</text>
<text transform="translate(782.40,567.83) scale(0.2502,0.2690)">479777</text>
<text transform="translate(924.29,683.12) scale(0.2535,0.2761)">479645</text>
<text transform="translate(638.12,691.94) scale(0.2394,0.2563)">479615</text>
<text transform="translate(387.14,754.04) scale(0.2295,0.2620)">479640(2)</text>
<text transform="translate(411.15,819.84) scale(0.2269,0.2563)">479641</text>
<text transform="translate(958.09,873.13) scale(0.2547,0.2690)">479646</text>
<text transform="translate(905.20,908.64) scale(0.2486,0.2592)">479762</text>
<text transform="translate(273.32,896.94) scale(0.2415,0.2620)">479760</text>
<text transform="translate(675.32,937.04) scale(0.2388,0.2592)">479643</text>
<text transform="translate(586.13,1020.95) scale(0.2343,0.2549)">479761</text>
<text transform="translate(788.13,1147.54) scale(0.2333,0.2592)">479612(2)</text>
<text transform="translate(1025.51,1185.73) scale(0.2458,0.2690)">479611</text>
<text transform="translate(501.60,1175.73) scale(0.2505,0.2676)">479663</text>
<text transform="translate(489.50,1266.74) scale(0.2495,0.2620)">479648</text>
<text transform="translate(199.50,1236.73) scale(0.2477,0.2662)">479662</text>
<text transform="translate(936.50,1257.74) scale(0.2505,0.2648)">479613</text>
<text transform="translate(885.40,1328.83) scale(0.2495,0.2690)">479655</text>
<text transform="translate(886.41,1354.84) scale(0.2429,0.2648)">479654(2)</text>
<text transform="translate(887.41,1379.04) scale(0.2433,0.2577)">479653(2)</text>
<text transform="translate(888.60,1410.84) scale(0.2495,0.2648)">479652</text>
<text transform="translate(888.62,1447.73) scale(0.2410,0.2662)">479651</text>
<text transform="translate(889.20,1471.84) scale(0.2494,0.2648)">479650</text>
<text transform="translate(891.52,1497.84) scale(0.2394,0.2648)">479601</text>
<text transform="translate(890.60,1523.84) scale(0.2495,0.2648)">479649</text>
<text transform="translate(267.59,1349.74) scale(0.2526,0.2648)">479658</text>
<text transform="translate(268.60,1381.64) scale(0.2486,0.2648)">479657</text>
<text transform="translate(315.42,1417.95) scale(0.2388,0.2549)">479763</text>
<text transform="translate(314.02,1490.45) scale(0.2422,0.2549)">479661</text>
<text transform="translate(585.62,1608.74) scale(0.2385,0.2620)">479659</text>
<text transform="translate(763.33,1593.75) scale(0.2326,0.2549)">479660(6)</text>
</g>
</svg>
</body></html>
